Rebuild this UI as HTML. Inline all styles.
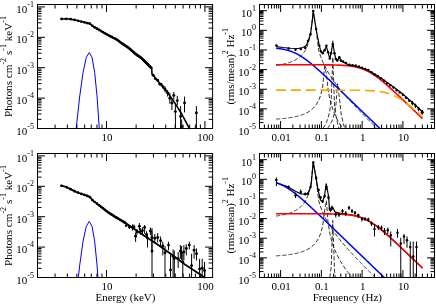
<!DOCTYPE html>
<html><head><meta charset="utf-8"><title>plot</title>
<style>html,body{margin:0;padding:0;background:#fff;}svg{display:block;filter:blur(0.3px);}text{font-family:'Liberation Serif', serif;fill:#000;}</style></head><body>
<svg width="436" height="304" viewBox="0 0 436 304">
<rect x="0" y="0" width="436" height="304" fill="#fff"/>
<polyline points="76.2,128.5 79.61,97.04 83.07,72.33 86.28,57.49 89.26,52.55 92.04,57.49 94.66,72.33 97.12,97.04 99.25,128.5" fill="none" stroke="#0000ff" stroke-width="1" />
<polyline points="61,19 66,18.75 71,19.25 76,20.25 81,21.5 86,22.75 89.75,23.6 93.5,26.75 98.5,29.5 104,32.75 110.25,36.25 116.5,39.4 122.75,44 129,48.1 135.25,53.75 141.5,58.1 146.5,63.1 151.7,68.3 152,74.1 156.25,79.1 160.6,84.3 165,89.5 168.1,93.2 173.8,101.4 181.7,114 188.8,127.4 189.4,128.5" fill="none" stroke="#000" stroke-width="1.6" stroke-linejoin="round" stroke-linecap="round"/>
<circle cx="61.64" cy="18.97" r="1.35" fill="#000"/>
<circle cx="66.37" cy="18.79" r="1.35" fill="#000"/>
<circle cx="70.63" cy="19.21" r="1.35" fill="#000"/>
<circle cx="74.51" cy="19.95" r="1.35" fill="#000"/>
<circle cx="78.06" cy="20.76" r="1.35" fill="#000"/>
<circle cx="81.34" cy="21.58" r="1.35" fill="#000"/>
<circle cx="84.38" cy="22.35" r="1.35" fill="#000"/>
<circle cx="87.23" cy="23.03" r="1.35" fill="#000"/>
<circle cx="89.89" cy="23.72" r="1.35" fill="#000"/>
<circle cx="92.4" cy="25.83" r="1.35" fill="#000"/>
<circle cx="94.77" cy="27.45" r="1.35" fill="#000"/>
<circle cx="97.02" cy="28.68" r="1.35" fill="#000"/>
<circle cx="99.15" cy="29.88" r="1.35" fill="#000"/>
<circle cx="101.18" cy="31.09" r="1.35" fill="#000"/>
<circle cx="103.12" cy="32.23" r="1.35" fill="#000"/>
<circle cx="104.98" cy="33.3" r="1.35" fill="#000"/>
<circle cx="106.76" cy="34.29" r="1.35" fill="#000"/>
<circle cx="108.46" cy="35.25" r="1.35" fill="#000"/>
<circle cx="110.1" cy="36.17" r="1.35" fill="#000"/>
<circle cx="111.69" cy="36.97" r="1.35" fill="#000"/>
<circle cx="113.21" cy="37.74" r="1.35" fill="#000"/>
<circle cx="114.68" cy="38.48" r="1.35" fill="#000"/>
<circle cx="116.1" cy="39.2" r="1.35" fill="#000"/>
<circle cx="117.48" cy="40.12" r="1.35" fill="#000"/>
<circle cx="118.82" cy="41.1" r="1.35" fill="#000"/>
<circle cx="120.11" cy="42.06" r="1.35" fill="#000"/>
<circle cx="121.36" cy="42.98" r="1.35" fill="#000"/>
<circle cx="122.58" cy="43.88" r="1.35" fill="#000"/>
<circle cx="123.77" cy="44.67" r="1.35" fill="#000"/>
<circle cx="124.92" cy="45.43" r="1.35" fill="#000"/>
<circle cx="126.05" cy="46.16" r="1.35" fill="#000"/>
<circle cx="127.14" cy="46.88" r="1.35" fill="#000"/>
<circle cx="128.21" cy="47.58" r="1.35" fill="#000"/>
<circle cx="129.25" cy="48.33" r="1.35" fill="#000"/>
<circle cx="130.27" cy="49.25" r="1.35" fill="#000"/>
<circle cx="131.26" cy="50.14" r="1.35" fill="#000"/>
<circle cx="132.23" cy="51.02" r="1.35" fill="#000"/>
<circle cx="133.18" cy="51.88" r="1.35" fill="#000"/>
<circle cx="134.11" cy="52.72" r="1.35" fill="#000"/>
<circle cx="135.02" cy="53.54" r="1.35" fill="#000"/>
<circle cx="135.91" cy="54.21" r="1.35" fill="#000"/>
<circle cx="136.78" cy="54.81" r="1.35" fill="#000"/>
<circle cx="137.63" cy="55.41" r="1.35" fill="#000"/>
<circle cx="138.47" cy="55.99" r="1.35" fill="#000"/>
<circle cx="139.29" cy="56.56" r="1.35" fill="#000"/>
<circle cx="140.1" cy="57.12" r="1.35" fill="#000"/>
<circle cx="140.89" cy="57.67" r="1.35" fill="#000"/>
<circle cx="141.66" cy="58.26" r="1.35" fill="#000"/>
<circle cx="142.43" cy="59.03" r="1.35" fill="#000"/>
<circle cx="143.18" cy="59.78" r="1.35" fill="#000"/>
<circle cx="143.91" cy="60.51" r="1.35" fill="#000"/>
<circle cx="144.64" cy="61.24" r="1.35" fill="#000"/>
<circle cx="145.35" cy="61.95" r="1.35" fill="#000"/>
<circle cx="146.05" cy="62.65" r="1.35" fill="#000"/>
<circle cx="146.74" cy="63.34" r="1.35" fill="#000"/>
<circle cx="147.42" cy="64.02" r="1.35" fill="#000"/>
<circle cx="148.08" cy="64.68" r="1.35" fill="#000"/>
<circle cx="148.74" cy="65.34" r="1.35" fill="#000"/>
<circle cx="149.39" cy="65.99" r="1.35" fill="#000"/>
<circle cx="150.02" cy="66.62" r="1.35" fill="#000"/>
<circle cx="150.65" cy="67.25" r="1.35" fill="#000"/>
<circle cx="151.27" cy="67.87" r="1.35" fill="#000"/>
<line x1="153.2" y1="74.2" x2="153.2" y2="76.2" stroke="#000" stroke-width="1"/>
<circle cx="153.2" cy="75.2" r="1.45" fill="#000"/>
<line x1="155.3" y1="77.4" x2="155.3" y2="79.8" stroke="#000" stroke-width="1"/>
<circle cx="155.3" cy="78.6" r="1.45" fill="#000"/>
<line x1="157.6" y1="79" x2="157.6" y2="81.6" stroke="#000" stroke-width="1"/>
<circle cx="157.6" cy="80.2" r="1.45" fill="#000"/>
<line x1="159.6" y1="82.4" x2="159.6" y2="85.4" stroke="#000" stroke-width="1"/>
<circle cx="159.6" cy="83.9" r="1.45" fill="#000"/>
<line x1="161.4" y1="83" x2="161.4" y2="86.4" stroke="#000" stroke-width="1"/>
<circle cx="161.4" cy="84.6" r="1.45" fill="#000"/>
<line x1="163.2" y1="85.5" x2="163.2" y2="88.8" stroke="#000" stroke-width="1"/>
<circle cx="163.2" cy="87" r="1.45" fill="#000"/>
<line x1="165.1" y1="86.5" x2="165.1" y2="92.5" stroke="#000" stroke-width="1"/>
<circle cx="165.1" cy="89.5" r="1.45" fill="#000"/>
<line x1="167.6" y1="90" x2="167.6" y2="96.5" stroke="#000" stroke-width="1"/>
<circle cx="167.6" cy="93" r="1.45" fill="#000"/>
<line x1="169.8" y1="92.7" x2="169.8" y2="103.7" stroke="#000" stroke-width="1"/>
<circle cx="169.8" cy="98.2" r="1.45" fill="#000"/>
<line x1="173.8" y1="91.9" x2="173.8" y2="99.8" stroke="#000" stroke-width="1"/>
<circle cx="173.8" cy="95.4" r="1.45" fill="#000"/>
<line x1="171.9" y1="99" x2="171.9" y2="110" stroke="#000" stroke-width="1"/>
<circle cx="171.9" cy="103" r="1.45" fill="#000"/>
<line x1="177.3" y1="95.8" x2="177.3" y2="105.3" stroke="#000" stroke-width="1"/>
<circle cx="177.3" cy="100.6" r="1.45" fill="#000"/>
<line x1="175.4" y1="104.5" x2="175.4" y2="128.5" stroke="#000" stroke-width="1"/>
<circle cx="175.4" cy="111.6" r="1.45" fill="#000"/>
<line x1="180.6" y1="106.1" x2="180.6" y2="128.5" stroke="#000" stroke-width="1"/>
<circle cx="180.6" cy="116.4" r="1.45" fill="#000"/>
<line x1="184.5" y1="96.6" x2="184.5" y2="112.4" stroke="#000" stroke-width="1"/>
<circle cx="184.5" cy="103" r="1.45" fill="#000"/>
<line x1="181.7" y1="119.5" x2="181.7" y2="128.5" stroke="#000" stroke-width="1"/>
<circle cx="181.7" cy="126.6" r="1.45" fill="#000"/>
<line x1="196.4" y1="106.1" x2="196.4" y2="128.5" stroke="#000" stroke-width="1"/>
<circle cx="196.4" cy="112.9" r="1.45" fill="#000"/>
<polyline points="78.38,277.5 79.61,265.9 83.07,241.18 86.28,226.35 89.26,221.41 92.04,226.35 94.66,241.18 97.12,265.9 97.92,277.5" fill="none" stroke="#0000ff" stroke-width="1" />
<polyline points="61,185.6 66,186.9 71,189.4 76,191.9 81,193.75 86,195.4 89.75,196.9 92.9,200.6 97.25,203.9 102.25,207.7 108.5,212.6 114.75,216.6 121,220.3 126,223.3 132.5,227.8 139,232.3 145,236.3 150,239.4 157.5,244.6 167.1,251.2 175,257 184.2,263.9 193,269.8 201.3,275.3 204.3,277.5" fill="none" stroke="#000" stroke-width="1.8" stroke-linejoin="round" stroke-linecap="round"/>
<circle cx="61.64" cy="185.77" r="1.35" fill="#000"/>
<circle cx="66.37" cy="187.09" r="1.35" fill="#000"/>
<circle cx="70.63" cy="189.22" r="1.35" fill="#000"/>
<circle cx="74.51" cy="191.15" r="1.35" fill="#000"/>
<circle cx="78.06" cy="192.66" r="1.35" fill="#000"/>
<circle cx="81.34" cy="193.86" r="1.35" fill="#000"/>
<circle cx="84.38" cy="194.87" r="1.35" fill="#000"/>
<circle cx="87.23" cy="195.89" r="1.35" fill="#000"/>
<circle cx="89.89" cy="197.07" r="1.35" fill="#000"/>
<circle cx="92.4" cy="200.02" r="1.35" fill="#000"/>
<circle cx="94.77" cy="202.02" r="1.35" fill="#000"/>
<circle cx="97.02" cy="203.72" r="1.35" fill="#000"/>
<circle cx="99.15" cy="205.34" r="1.35" fill="#000"/>
<circle cx="101.18" cy="206.89" r="1.35" fill="#000"/>
<circle cx="103.12" cy="208.38" r="1.35" fill="#000"/>
<circle cx="104.98" cy="209.84" r="1.35" fill="#000"/>
<circle cx="106.76" cy="211.23" r="1.35" fill="#000"/>
<circle cx="108.46" cy="212.57" r="1.35" fill="#000"/>
<circle cx="110.1" cy="213.63" r="1.35" fill="#000"/>
<circle cx="111.69" cy="214.64" r="1.35" fill="#000"/>
<circle cx="113.21" cy="215.61" r="1.35" fill="#000"/>
<circle cx="114.68" cy="216.56" r="1.35" fill="#000"/>
<circle cx="116.1" cy="217.4" r="1.35" fill="#000"/>
<circle cx="117.48" cy="218.22" r="1.35" fill="#000"/>
<circle cx="118.82" cy="219.01" r="1.35" fill="#000"/>
<circle cx="120.11" cy="219.77" r="1.35" fill="#000"/>
<circle cx="121.36" cy="220.52" r="1.35" fill="#000"/>
<circle cx="122.58" cy="221.25" r="1.35" fill="#000"/>
<circle cx="123.77" cy="221.96" r="1.35" fill="#000"/>
<circle cx="124.92" cy="222.65" r="1.35" fill="#000"/>
<line x1="126.25" y1="224" x2="126.25" y2="227" stroke="#000" stroke-width="1"/>
<circle cx="126.25" cy="225.6" r="1.45" fill="#000"/>
<line x1="129.4" y1="225" x2="129.4" y2="229" stroke="#000" stroke-width="1"/>
<circle cx="129.4" cy="226.9" r="1.45" fill="#000"/>
<line x1="132.5" y1="224.4" x2="132.5" y2="230.6" stroke="#000" stroke-width="1"/>
<circle cx="132.5" cy="227.5" r="1.45" fill="#000"/>
<line x1="134" y1="224.5" x2="134" y2="229.5" stroke="#000" stroke-width="1"/>
<circle cx="134" cy="226.9" r="1.45" fill="#000"/>
<line x1="135.6" y1="232.5" x2="135.6" y2="241.9" stroke="#000" stroke-width="1"/>
<circle cx="135.6" cy="236.25" r="1.45" fill="#000"/>
<line x1="136.9" y1="229" x2="136.9" y2="235" stroke="#000" stroke-width="1"/>
<circle cx="136.9" cy="231.9" r="1.45" fill="#000"/>
<line x1="139.4" y1="223" x2="139.4" y2="230" stroke="#000" stroke-width="1"/>
<circle cx="139.4" cy="226.25" r="1.45" fill="#000"/>
<line x1="140.6" y1="228" x2="140.6" y2="234.5" stroke="#000" stroke-width="1"/>
<circle cx="140.6" cy="231.25" r="1.45" fill="#000"/>
<line x1="142.5" y1="227.5" x2="142.5" y2="234" stroke="#000" stroke-width="1"/>
<circle cx="142.5" cy="230.6" r="1.45" fill="#000"/>
<line x1="144.6" y1="225" x2="144.6" y2="233.75" stroke="#000" stroke-width="1"/>
<circle cx="144.6" cy="227.5" r="1.45" fill="#000"/>
<line x1="146.5" y1="231.25" x2="146.5" y2="238.1" stroke="#000" stroke-width="1"/>
<circle cx="146.5" cy="234.4" r="1.45" fill="#000"/>
<line x1="147.5" y1="233.75" x2="147.5" y2="247.5" stroke="#000" stroke-width="1"/>
<circle cx="147.5" cy="238.1" r="1.45" fill="#000"/>
<line x1="150.4" y1="227.5" x2="150.4" y2="235" stroke="#000" stroke-width="1"/>
<circle cx="150.4" cy="231" r="1.45" fill="#000"/>
<line x1="151.9" y1="231.25" x2="151.9" y2="252.5" stroke="#000" stroke-width="1"/>
<circle cx="151.9" cy="237.5" r="1.45" fill="#000"/>
<line x1="152" y1="228" x2="152" y2="277.5" stroke="#000" stroke-width="1"/>
<circle cx="152" cy="251.1" r="1.45" fill="#000"/>
<line x1="154.8" y1="234" x2="154.8" y2="243.4" stroke="#000" stroke-width="1"/>
<circle cx="154.8" cy="238.3" r="1.45" fill="#000"/>
<line x1="157.7" y1="233.1" x2="157.7" y2="242.5" stroke="#000" stroke-width="1"/>
<circle cx="157.7" cy="237.4" r="1.45" fill="#000"/>
<line x1="160.6" y1="236.5" x2="160.6" y2="246" stroke="#000" stroke-width="1"/>
<circle cx="160.6" cy="240.8" r="1.45" fill="#000"/>
<line x1="162.8" y1="241.7" x2="162.8" y2="255.4" stroke="#000" stroke-width="1"/>
<circle cx="162.8" cy="246" r="1.45" fill="#000"/>
<line x1="165" y1="246" x2="165" y2="277.5" stroke="#000" stroke-width="1"/>
<circle cx="165" cy="252.8" r="1.45" fill="#000"/>
<line x1="168.5" y1="241.7" x2="168.5" y2="250.2" stroke="#000" stroke-width="1"/>
<circle cx="168.5" cy="245.1" r="1.45" fill="#000"/>
<line x1="170.5" y1="253.7" x2="170.5" y2="277.5" stroke="#000" stroke-width="1"/>
<circle cx="170.5" cy="269.9" r="1.45" fill="#000"/>
<line x1="173.1" y1="249.4" x2="173.1" y2="277.5" stroke="#000" stroke-width="1"/>
<circle cx="173.1" cy="256.2" r="1.45" fill="#000"/>
<line x1="174.3" y1="250.5" x2="174.3" y2="277.5" stroke="#000" stroke-width="1"/>
<circle cx="174.3" cy="258.5" r="1.45" fill="#000"/>
<line x1="178.2" y1="252" x2="178.2" y2="268" stroke="#000" stroke-width="1"/>
<circle cx="178.2" cy="258.8" r="1.45" fill="#000"/>
<line x1="180.4" y1="245.1" x2="180.4" y2="258.8" stroke="#000" stroke-width="1"/>
<circle cx="180.4" cy="251.1" r="1.45" fill="#000"/>
<line x1="181.6" y1="246" x2="181.6" y2="260.5" stroke="#000" stroke-width="1"/>
<circle cx="181.6" cy="252.8" r="1.45" fill="#000"/>
<line x1="182.8" y1="253.7" x2="182.8" y2="277.5" stroke="#000" stroke-width="1"/>
<circle cx="182.8" cy="262.2" r="1.45" fill="#000"/>
<line x1="183.9" y1="245.1" x2="183.9" y2="260.5" stroke="#000" stroke-width="1"/>
<circle cx="183.9" cy="251.9" r="1.45" fill="#000"/>
<line x1="186.3" y1="244.2" x2="186.3" y2="255.4" stroke="#000" stroke-width="1"/>
<circle cx="186.3" cy="248.5" r="1.45" fill="#000"/>
<line x1="189.3" y1="241.7" x2="189.3" y2="249.4" stroke="#000" stroke-width="1"/>
<circle cx="189.3" cy="245.1" r="1.45" fill="#000"/>
<line x1="191.6" y1="253.7" x2="191.6" y2="277.5" stroke="#000" stroke-width="1"/>
<circle cx="191.6" cy="265.6" r="1.45" fill="#000"/>
<line x1="194.1" y1="245.1" x2="194.1" y2="258.8" stroke="#000" stroke-width="1"/>
<circle cx="194.1" cy="250.2" r="1.45" fill="#000"/>
<line x1="196.5" y1="248.5" x2="196.5" y2="260.5" stroke="#000" stroke-width="1"/>
<circle cx="196.5" cy="253.7" r="1.45" fill="#000"/>
<line x1="199.6" y1="258.8" x2="199.6" y2="277.5" stroke="#000" stroke-width="1"/>
<circle cx="199.6" cy="269" r="1.45" fill="#000"/>
<line x1="202.2" y1="258.8" x2="202.2" y2="277.5" stroke="#000" stroke-width="1"/>
<circle cx="202.2" cy="268.2" r="1.45" fill="#000"/>
<line x1="204.5" y1="262" x2="204.5" y2="277.5" stroke="#000" stroke-width="1"/>
<circle cx="204.5" cy="270.5" r="1.45" fill="#000"/>
<polyline points="276.11,65.38 276.61,65.31 277.11,65.24 277.61,65.16 278.11,65.09 278.61,65.01 279.11,64.93 279.61,64.85 280.11,64.76 280.61,64.67 281.11,64.58 281.61,64.48 282.11,64.39 282.61,64.28 283.11,64.18 283.61,64.07 284.11,63.96 284.61,63.84 285.11,63.72 285.61,63.59 286.11,63.46 286.61,63.33 287.11,63.19 287.61,63.04 288.11,62.89 288.61,62.74 289.11,62.57 289.61,62.41 290.11,62.23 290.61,62.05 291.11,61.86 291.61,61.66 292.11,61.46 292.61,61.24 293.11,61.02 293.61,60.79 294.11,60.55 294.61,60.3 295.11,60.03 295.61,59.76 296.11,59.47 296.61,59.17 297.11,58.86 297.61,58.52 298.11,58.18 298.61,57.81 299.11,57.43 299.61,57.03 300.11,56.6 300.61,56.16 301.11,55.68 301.61,55.18 302.11,54.65 302.61,54.09 303.11,53.49 303.61,52.85 304.11,52.16 304.61,51.43 305.11,50.64 305.61,49.79 308,44.54 310.5,34.2 313.25,11.1 316.1,29.2 318.6,49.93 320.6,56.31 322.6,61.44 324.6,65.79 326.4,69.26 328.1,72.26 329.8,75.05 331.2,77.21 332.8,79.57 334.5,81.97 335.9,83.86 337.5,85.96 339.3,88.25 341,90.35 343.1,92.87 346,96.24 346.5,96.81 347,97.37 347.5,97.94 348,98.5 348.5,99.06 349,99.62 349.5,100.17 350,100.72 350.5,101.27 351,101.82 351.5,102.36 352,102.91 352.5,103.45 353,103.99 353.5,104.53 354,105.06 354.5,105.6 355,106.13 355.5,106.66 356,107.19 356.5,107.72 357,108.25 357.5,108.77 358,109.3 358.5,109.82 359,110.34 359.5,110.86 360,111.38 360.5,111.9 361,112.42 361.5,112.93 362,113.45 362.5,113.96 363,114.47 363.5,114.99 364,115.5 364.5,116.01 365,116.52 365.5,117.03 366,117.53 366.5,118.04 367,118.55 367.5,119.05 368,119.56 368.5,120.06 369,120.57 369.5,121.07 370,121.57 370.5,122.07 371,122.57 371.5,123.07 372,123.57 372.5,124.07 373,124.57 373.5,125.07 374,125.57 374.5,126.07 375,126.56 375.5,127.06 376,127.56 376.5,128.05 376.95,128.5" fill="none" stroke="#000" stroke-width="0.8" stroke-dasharray="4.2 2.0" />
<polyline points="276.11,119.1 276.61,119.07 277.11,119.03 277.61,119 278.11,118.96 278.61,118.93 279.11,118.89 279.61,118.85 280.11,118.81 280.61,118.77 281.11,118.73 281.61,118.68 282.11,118.64 282.61,118.59 283.11,118.54 283.61,118.49 284.11,118.44 284.61,118.39 285.11,118.33 285.61,118.28 286.11,118.22 286.61,118.16 287.11,118.1 287.61,118.03 288.11,117.97 288.61,117.9 289.11,117.83 289.61,117.76 290.11,117.68 290.61,117.6 291.11,117.52 291.61,117.44 292.11,117.35 292.61,117.27 293.11,117.17 293.61,117.08 294.11,116.98 294.61,116.88 295.11,116.77 295.61,116.67 296.11,116.55 296.61,116.44 297.11,116.32 297.61,116.19 298.11,116.06 298.61,115.93 299.11,115.79 299.61,115.64 300.11,115.49 300.61,115.34 301.11,115.18 301.61,115.01 302.11,114.83 302.61,114.65 303.11,114.46 303.61,114.27 304.11,114.06 304.61,113.85 305.11,113.63 305.61,113.4 308,112.15 310.5,110.52 313.25,108.18 316.1,104.82 318.6,100.55 320.6,95.45 322.6,87.05 324.6,66.44 326.4,73.49 328.1,90.03 329.8,98.97 331.2,104.3 332.8,109.22 334.5,113.6 335.9,116.75 337.5,120.01 339.3,123.33 341,126.22 342.44,128.5" fill="none" stroke="#000" stroke-width="0.8" stroke-dasharray="4.2 2.0" />
<polyline points="322.86,128.5 324.6,125.99 326.4,122.51 328.1,117.92 329.8,110.84 331.2,100.25 332.8,57.29 334.5,105 335.9,115.49 337.5,123.2 339,128.5" fill="none" stroke="#000" stroke-width="0.8" stroke-dasharray="4.2 2.0" />
<polyline points="327.32,128.5 328.1,127.61 329.8,125.17 331.2,122.64 332.8,118.84 334.5,112.99 335.9,105.19 337.5,83.74 339.3,97.23 341,112.75 343.1,123 344.82,128.5" fill="none" stroke="#000" stroke-width="0.8" stroke-dasharray="4.2 2.0" />
<polyline points="276.11,48.27 276.48,48.31 276.85,48.35 277.21,48.38 277.58,48.42 277.95,48.47 278.32,48.51 278.69,48.55 279.06,48.6 279.42,48.65 279.79,48.7 280.16,48.75 280.53,48.8 280.9,48.86 281.27,48.91 281.63,48.97 282,49.04 282.37,49.1 282.74,49.16 283.11,49.23 283.48,49.3 283.84,49.38 284.21,49.45 284.58,49.53 284.95,49.61 285.32,49.69 285.69,49.78 286.05,49.86 286.42,49.95 286.79,50.05 287.16,50.14 287.53,50.24 287.9,50.35 288.26,50.45 288.63,50.56 289,50.67 289.37,50.79 289.74,50.91 290.11,51.03 290.47,51.15 290.84,51.28 291.21,51.41 291.58,51.55 291.95,51.69 292.32,51.83 292.68,51.98 293.05,52.12 293.42,52.28 293.79,52.43 294.16,52.59 294.53,52.76 294.89,52.93 295.26,53.1 295.63,53.27 296,53.45 296.37,53.63 296.73,53.82 297.1,54.01 297.47,54.2 297.84,54.4 298.21,54.6 298.58,54.81 298.94,55.01 299.31,55.22 299.68,55.44 300.05,55.66 300.42,55.88 300.79,56.11 301.15,56.33 301.52,56.57 301.89,56.8 302.26,57.04 302.63,57.28 303,57.53 303.36,57.78 303.73,58.03 304.1,58.28 304.47,58.54 304.84,58.8 305.21,59.06 305.57,59.33 305.94,59.6 306.31,59.87 306.68,60.14 307.05,60.42 307.42,60.7 307.78,60.98 308.15,61.26 308.52,61.55 308.89,61.84 309.26,62.13 309.63,62.42 309.99,62.72 310.36,63.02 310.73,63.31 311.1,63.62 311.47,63.92 311.84,64.22 312.2,64.53 312.57,64.84 312.94,65.15 313.31,65.46 313.68,65.77 314.05,66.09 314.41,66.4 314.78,66.72 315.15,67.04 315.52,67.36 315.89,67.68 316.26,68 316.62,68.33 316.99,68.65 317.36,68.98 317.73,69.3 318.1,69.63 318.47,69.96 318.83,70.29 319.2,70.62 319.57,70.95 319.94,71.29 320.31,71.62 320.67,71.96 321.04,72.29 321.41,72.63 321.78,72.96 322.15,73.3 322.52,73.64 322.88,73.98 323.25,74.32 323.62,74.66 323.99,75 324.36,75.34 324.73,75.68 325.09,76.02 325.46,76.37 325.83,76.71 326.2,77.05 326.57,77.4 326.94,77.74 327.3,78.09 327.67,78.43 328.04,78.78 328.41,79.12 328.78,79.47 329.15,79.82 329.51,80.16 329.88,80.51 330.25,80.86 330.62,81.21 330.99,81.56 331.36,81.9 331.72,82.25 332.09,82.6 332.46,82.95 332.83,83.3 333.2,83.65 333.57,84 333.93,84.35 334.3,84.7 334.67,85.05 335.04,85.4 335.41,85.75 335.78,86.1 336.14,86.45 336.51,86.81 336.88,87.16 337.25,87.51 337.62,87.86 337.99,88.21 338.35,88.56 338.72,88.92 339.09,89.27 339.46,89.62 339.83,89.97 340.2,90.33 340.56,90.68 340.93,91.03 341.3,91.38 341.67,91.74 342.04,92.09 342.41,92.44 342.77,92.8 343.14,93.15 343.51,93.5 343.88,93.86 344.25,94.21 344.61,94.56 344.98,94.92 345.35,95.27 345.72,95.62 346.09,95.98 346.46,96.33 346.82,96.68 347.19,97.04 347.56,97.39 347.93,97.75 348.3,98.1 348.67,98.45 349.03,98.81 349.4,99.16 349.77,99.52 350.14,99.87 350.51,100.22 350.88,100.58 351.24,100.93 351.61,101.29 351.98,101.64 352.35,101.99 352.72,102.35 353.09,102.7 353.45,103.06 353.82,103.41 354.19,103.77 354.56,104.12 354.93,104.47 355.3,104.83 355.66,105.18 356.03,105.54 356.4,105.89 356.77,106.25 357.14,106.6 357.51,106.96 357.87,107.31 358.24,107.67 358.61,108.02 358.98,108.37 359.35,108.73 359.72,109.08 360.08,109.44 360.45,109.79 360.82,110.15 361.19,110.5 361.56,110.86 361.93,111.21 362.29,111.57 362.66,111.92 363.03,112.28 363.4,112.63 363.77,112.98 364.14,113.34 364.5,113.69 364.87,114.05 365.24,114.4 365.61,114.76 365.98,115.11 366.35,115.47 366.71,115.82 367.08,116.18 367.45,116.53 367.82,116.89 368.19,117.24 368.55,117.6 368.92,117.95 369.29,118.31 369.66,118.66 370.03,119.01 370.4,119.37 370.76,119.72 371.13,120.08 371.5,120.43 371.87,120.79 372.24,121.14 372.61,121.5 372.97,121.85 373.34,122.21 373.71,122.56 374.08,122.92 374.45,123.27 374.82,123.63 375.18,123.98 375.55,124.34 375.92,124.69 376.29,125.05 376.66,125.4 377.03,125.76 377.39,126.11 377.76,126.47 378.13,126.82 378.5,127.18 378.87,127.53 379.24,127.88 379.6,128.24" fill="none" stroke="#0000ff" stroke-width="1.5" />
<polyline points="276.11,64.76 276.6,64.76 277.09,64.76 277.57,64.76 278.06,64.76 278.55,64.76 279.04,64.76 279.52,64.76 280.01,64.76 280.5,64.76 280.99,64.76 281.48,64.76 281.96,64.76 282.45,64.76 282.94,64.76 283.43,64.76 283.92,64.76 284.4,64.76 284.89,64.76 285.38,64.76 285.87,64.76 286.36,64.76 286.84,64.76 287.33,64.76 287.82,64.76 288.31,64.76 288.8,64.76 289.28,64.76 289.77,64.76 290.26,64.76 290.75,64.76 291.23,64.76 291.72,64.76 292.21,64.76 292.7,64.76 293.19,64.76 293.67,64.76 294.16,64.76 294.65,64.76 295.14,64.76 295.63,64.76 296.11,64.76 296.6,64.76 297.09,64.76 297.58,64.76 298.07,64.76 298.55,64.76 299.04,64.76 299.53,64.76 300.02,64.76 300.5,64.76 300.99,64.76 301.48,64.76 301.97,64.76 302.46,64.76 302.94,64.76 303.43,64.76 303.92,64.77 304.41,64.77 304.9,64.77 305.38,64.77 305.87,64.77 306.36,64.77 306.85,64.77 307.34,64.77 307.82,64.77 308.31,64.77 308.8,64.77 309.29,64.77 309.77,64.77 310.26,64.77 310.75,64.77 311.24,64.77 311.73,64.78 312.21,64.78 312.7,64.78 313.19,64.78 313.68,64.78 314.17,64.78 314.65,64.78 315.14,64.78 315.63,64.78 316.12,64.79 316.61,64.79 317.09,64.79 317.58,64.79 318.07,64.79 318.56,64.8 319.04,64.8 319.53,64.8 320.02,64.8 320.51,64.8 321,64.81 321.48,64.81 321.97,64.81 322.46,64.82 322.95,64.82 323.44,64.82 323.92,64.83 324.41,64.83 324.9,64.83 325.39,64.84 325.88,64.84 326.36,64.85 326.85,64.85 327.34,64.86 327.83,64.86 328.32,64.87 328.8,64.88 329.29,64.88 329.78,64.89 330.27,64.9 330.75,64.9 331.24,64.91 331.73,64.92 332.22,64.93 332.71,64.94 333.19,64.95 333.68,64.96 334.17,64.97 334.66,64.99 335.15,65 335.63,65.01 336.12,65.03 336.61,65.04 337.1,65.06 337.59,65.07 338.07,65.09 338.56,65.11 339.05,65.13 339.54,65.15 340.02,65.17 340.51,65.19 341,65.22 341.49,65.24 341.98,65.27 342.46,65.3 342.95,65.33 343.44,65.36 343.93,65.39 344.42,65.42 344.9,65.46 345.39,65.5 345.88,65.54 346.37,65.58 346.86,65.62 347.34,65.67 347.83,65.72 348.32,65.77 348.81,65.83 349.29,65.88 349.78,65.94 350.27,66 350.76,66.07 351.25,66.14 351.73,66.21 352.22,66.28 352.71,66.36 353.2,66.45 353.69,66.53 354.17,66.62 354.66,66.72 355.15,66.82 355.64,66.92 356.13,67.03 356.61,67.14 357.1,67.26 357.59,67.38 358.08,67.5 358.56,67.64 359.05,67.77 359.54,67.92 360.03,68.06 360.52,68.22 361,68.38 361.49,68.54 361.98,68.71 362.47,68.89 362.96,69.08 363.44,69.27 363.93,69.46 364.42,69.66 364.91,69.87 365.4,70.09 365.88,70.31 366.37,70.54 366.86,70.77 367.35,71.01 367.84,71.26 368.32,71.51 368.81,71.78 369.3,72.04 369.79,72.32 370.27,72.59 370.76,72.88 371.25,73.17 371.74,73.47 372.23,73.77 372.71,74.08 373.2,74.4 373.69,74.72 374.18,75.05 374.67,75.38 375.15,75.72 375.64,76.06 376.13,76.41 376.62,76.76 377.11,77.12 377.59,77.48 378.08,77.84 378.57,78.21 379.06,78.59 379.54,78.97 380.03,79.35 380.52,79.74 381.01,80.13 381.5,80.52 381.98,80.92 382.47,81.32 382.96,81.73 383.45,82.13 383.94,82.55 384.42,82.96 384.91,83.37 385.4,83.79 385.89,84.21 386.38,84.64 386.86,85.06 387.35,85.49 387.84,85.92 388.33,86.35 388.81,86.78 389.3,87.22 389.79,87.66 390.28,88.1 390.77,88.54 391.25,88.98 391.74,89.42 392.23,89.87 392.72,90.31 393.21,90.76 393.69,91.21 394.18,91.66 394.67,92.11 395.16,92.56 395.65,93.01 396.13,93.46 396.62,93.92 397.11,94.37 397.6,94.83 398.08,95.29 398.57,95.74 399.06,96.2 399.55,96.66 400.04,97.12 400.52,97.58 401.01,98.04 401.5,98.5 401.99,98.96 402.48,99.42 402.96,99.89 403.45,100.35 403.94,100.81 404.43,101.28 404.92,101.74 405.4,102.2 405.89,102.67 406.38,103.13 406.87,103.6 407.35,104.06 407.84,104.53 408.33,104.99 408.82,105.46 409.31,105.93 409.79,106.39 410.28,106.86 410.77,107.33 411.26,107.79 411.75,108.26 412.23,108.73 412.72,109.19 413.21,109.66 413.7,110.13 414.19,110.6 414.67,111.07 415.16,111.53 415.65,112 416.14,112.47 416.63,112.94 417.11,113.41 417.6,113.88 418.09,114.34 418.58,114.81 419.06,115.28 419.55,115.75 420.04,116.22 420.53,116.69 421.02,117.16 421.5,117.63 421.99,118.1 422.48,118.56" fill="none" stroke="#ff0000" stroke-width="1.6" />
<polyline points="276.11,90.17 276.6,90.17 277.09,90.17 277.57,90.17 278.06,90.17 278.55,90.17 279.04,90.17 279.52,90.17 280.01,90.17 280.5,90.17 280.99,90.17 281.48,90.17 281.96,90.17 282.45,90.17 282.94,90.17 283.43,90.17 283.92,90.17 284.4,90.17 284.89,90.17 285.38,90.17 285.87,90.17 286.36,90.17 286.84,90.17 287.33,90.17 287.82,90.17 288.31,90.17 288.8,90.17 289.28,90.17 289.77,90.17 290.26,90.17 290.75,90.17 291.23,90.17 291.72,90.17 292.21,90.17 292.7,90.17 293.19,90.17 293.67,90.17 294.16,90.17 294.65,90.17 295.14,90.17 295.63,90.17 296.11,90.17 296.6,90.17 297.09,90.17 297.58,90.17 298.07,90.17 298.55,90.17 299.04,90.17 299.53,90.17 300.02,90.17 300.5,90.17 300.99,90.17 301.48,90.17 301.97,90.17 302.46,90.17 302.94,90.17 303.43,90.17 303.92,90.17 304.41,90.17 304.9,90.17 305.38,90.17 305.87,90.17 306.36,90.17 306.85,90.17 307.34,90.17 307.82,90.17 308.31,90.17 308.8,90.17 309.29,90.17 309.77,90.17 310.26,90.17 310.75,90.17 311.24,90.17 311.73,90.17 312.21,90.17 312.7,90.17 313.19,90.17 313.68,90.17 314.17,90.17 314.65,90.17 315.14,90.17 315.63,90.17 316.12,90.17 316.61,90.17 317.09,90.17 317.58,90.17 318.07,90.17 318.56,90.17 319.04,90.17 319.53,90.17 320.02,90.17 320.51,90.17 321,90.17 321.48,90.17 321.97,90.17 322.46,90.17 322.95,90.17 323.44,90.17 323.92,90.17 324.41,90.17 324.9,90.17 325.39,90.17 325.88,90.17 326.36,90.17 326.85,90.17 327.34,90.17 327.83,90.17 328.32,90.17 328.8,90.17 329.29,90.17 329.78,90.17 330.27,90.17 330.75,90.17 331.24,90.17 331.73,90.17 332.22,90.17 332.71,90.17 333.19,90.17 333.68,90.17 334.17,90.17 334.66,90.18 335.15,90.18 335.63,90.18 336.12,90.18 336.61,90.18 337.1,90.18 337.59,90.18 338.07,90.18 338.56,90.18 339.05,90.18 339.54,90.18 340.02,90.18 340.51,90.18 341,90.19 341.49,90.19 341.98,90.19 342.46,90.19 342.95,90.19 343.44,90.19 343.93,90.19 344.42,90.19 344.9,90.2 345.39,90.2 345.88,90.2 346.37,90.2 346.86,90.2 347.34,90.21 347.83,90.21 348.32,90.21 348.81,90.21 349.29,90.21 349.78,90.22 350.27,90.22 350.76,90.22 351.25,90.23 351.73,90.23 352.22,90.23 352.71,90.24 353.2,90.24 353.69,90.25 354.17,90.25 354.66,90.25 355.15,90.26 355.64,90.26 356.13,90.27 356.61,90.28 357.1,90.28 357.59,90.29 358.08,90.3 358.56,90.3 359.05,90.31 359.54,90.32 360.03,90.33 360.52,90.34 361,90.35 361.49,90.36 361.98,90.37 362.47,90.38 362.96,90.39 363.44,90.4 363.93,90.42 364.42,90.43 364.91,90.44 365.4,90.46 365.88,90.48 366.37,90.49 366.86,90.51 367.35,90.53 367.84,90.55 368.32,90.57 368.81,90.59 369.3,90.62 369.79,90.64 370.27,90.67 370.76,90.7 371.25,90.73 371.74,90.76 372.23,90.79 372.71,90.82 373.2,90.86 373.69,90.9 374.18,90.94 374.67,90.98 375.15,91.02 375.64,91.07 376.13,91.12 376.62,91.17 377.11,91.22 377.59,91.28 378.08,91.34 378.57,91.4 379.06,91.46 379.54,91.53 380.03,91.6 380.52,91.67 381.01,91.75 381.5,91.83 381.98,91.92 382.47,92.01 382.96,92.1 383.45,92.2 383.94,92.3 384.42,92.41 384.91,92.52 385.4,92.64 385.89,92.76 386.38,92.88 386.86,93.01 387.35,93.15 387.84,93.29 388.33,93.44 388.81,93.59 389.3,93.75 389.79,93.91 390.28,94.08 390.77,94.26 391.25,94.44 391.74,94.63 392.23,94.82 392.72,95.02 393.21,95.23 393.69,95.44 394.18,95.66 394.67,95.89 395.16,96.12 395.65,96.36 396.13,96.61 396.62,96.86 397.11,97.12 397.6,97.39 398.08,97.66 398.57,97.94 399.06,98.22 399.55,98.51 400.04,98.81 400.52,99.11 401.01,99.42 401.5,99.73 401.99,100.05 402.48,100.38 402.96,100.71 403.45,101.04 403.94,101.38 404.43,101.73 404.92,102.08 405.4,102.44 405.89,102.8 406.38,103.16 406.87,103.53 407.35,103.91 407.84,104.29 408.33,104.67 408.82,105.06 409.31,105.44 409.79,105.84 410.28,106.24 410.77,106.64 411.26,107.04 411.75,107.45 412.23,107.86 412.72,108.27 413.21,108.68 413.7,109.1 414.19,109.52 414.67,109.94 415.16,110.37 415.65,110.8 416.14,111.22 416.63,111.66 417.11,112.09 417.6,112.52 418.09,112.96 418.58,113.4 419.06,113.84 419.55,114.28 420.04,114.72 420.53,115.17 421.02,115.61 421.5,116.06 421.99,116.51 422.48,116.96" fill="none" stroke="#ffa500" stroke-width="1.6" stroke-dasharray="10 4.8" />
<polyline points="276.1,46.6 283,47.5 290.5,48.25 298,48.5 303,47.5 305.25,46.3 306.75,44.75 308,41.5 310.5,34 312.4,20.25 313.25,10.9 316.1,29 317.4,36 319.3,45.7 320.4,49.7 321.6,52.3 322.8,53 324.7,50.1 326.3,46.2 328.1,52.3 329.8,58.7 331.1,53.1 332.8,43.2 334.5,53.1 335.8,59.1 337.3,60.7 339.3,57.1 340.9,60.8 343.1,62 346.25,63.8 349.4,65.11 352.55,65.61 355.7,66.23 358.85,67.01 362,67.98 365.15,69.16 368.3,70.57 371.45,72.2 374.6,74.02 377.75,76 380.9,78.08 384.05,80.23 387.2,82.44 390.35,84.69 393.5,86.99 396.65,89.35 399.8,91.8 402.95,94.34 406.1,96.98 409.25,99.7 412.4,102.5 415.55,105.36 418.7,108.26 421.85,111.2 422.5,111.81" fill="none" stroke="#000" stroke-width="1.2" stroke-linejoin="round"/>
<circle cx="276.4" cy="45.4" r="1.25" fill="#000"/>
<circle cx="288.6" cy="48.5" r="1.25" fill="#000"/>
<circle cx="295.5" cy="49.75" r="1.25" fill="#000"/>
<circle cx="300.75" cy="49.1" r="1.25" fill="#000"/>
<circle cx="305.25" cy="47.9" r="1.25" fill="#000"/>
<circle cx="308" cy="41" r="1.25" fill="#000"/>
<circle cx="310.5" cy="34.25" r="1.25" fill="#000"/>
<circle cx="313.25" cy="10.9" r="1.25" fill="#000"/>
<circle cx="316.1" cy="29" r="1.25" fill="#000"/>
<circle cx="319.3" cy="45.8" r="1.25" fill="#000"/>
<circle cx="321" cy="51.5" r="1.25" fill="#000"/>
<circle cx="322.8" cy="53.2" r="1.25" fill="#000"/>
<circle cx="324.7" cy="50.3" r="1.25" fill="#000"/>
<circle cx="326.4" cy="45.8" r="1.25" fill="#000"/>
<circle cx="328.1" cy="52.3" r="1.25" fill="#000"/>
<circle cx="329.8" cy="58.5" r="1.25" fill="#000"/>
<circle cx="331.1" cy="53.3" r="1.25" fill="#000"/>
<circle cx="332.8" cy="44.5" r="1.25" fill="#000"/>
<circle cx="334.5" cy="53.3" r="1.25" fill="#000"/>
<circle cx="335.8" cy="59" r="1.25" fill="#000"/>
<circle cx="337.3" cy="60.6" r="1.25" fill="#000"/>
<circle cx="339.3" cy="57.3" r="1.25" fill="#000"/>
<circle cx="340.9" cy="60.6" r="1.25" fill="#000"/>
<circle cx="343.1" cy="61.6" r="1.25" fill="#000"/>
<circle cx="346" cy="63" r="1.25" fill="#000"/>
<line x1="332.8" y1="40.7" x2="332.8" y2="46.5" stroke="#000" stroke-width="1"/>
<circle cx="349.4" cy="64.81" r="1.25" fill="#000"/>
<circle cx="352.55" cy="65.31" r="1.25" fill="#000"/>
<circle cx="355.7" cy="65.48" r="1.25" fill="#000"/>
<circle cx="358.85" cy="66.38" r="1.25" fill="#000"/>
<circle cx="362" cy="67.84" r="1.25" fill="#000"/>
<circle cx="365.15" cy="68.92" r="1.25" fill="#000"/>
<circle cx="368.3" cy="70.11" r="1.25" fill="#000"/>
<circle cx="371.45" cy="72.18" r="1.25" fill="#000"/>
<circle cx="374.6" cy="74.4" r="1.25" fill="#000"/>
<circle cx="377.75" cy="76.11" r="1.25" fill="#000"/>
<circle cx="380.9" cy="78.14" r="1.25" fill="#000"/>
<circle cx="384.05" cy="80.86" r="1.25" fill="#000"/>
<circle cx="387.2" cy="83.25" r="1.25" fill="#000"/>
<circle cx="390.35" cy="85.16" r="1.25" fill="#000"/>
<circle cx="393.5" cy="87.52" r="1.25" fill="#000"/>
<circle cx="396.65" cy="90.32" r="1.25" fill="#000"/>
<circle cx="399.8" cy="92.6" r="1.25" fill="#000"/>
<circle cx="402.95" cy="94.75" r="1.25" fill="#000"/>
<circle cx="406.1" cy="97.66" r="1.25" fill="#000"/>
<circle cx="409.25" cy="100.7" r="1.25" fill="#000"/>
<line x1="412.4" y1="100.95" x2="412.4" y2="105.35" stroke="#000" stroke-width="1"/>
<circle cx="412.4" cy="103.15" r="1.25" fill="#000"/>
<line x1="415.55" y1="103.57" x2="415.55" y2="107.97" stroke="#000" stroke-width="1"/>
<circle cx="415.55" cy="105.77" r="1.25" fill="#000"/>
<line x1="418.7" y1="106.89" x2="418.7" y2="111.29" stroke="#000" stroke-width="1"/>
<circle cx="418.7" cy="109.09" r="1.25" fill="#000"/>
<line x1="421.85" y1="109.96" x2="421.85" y2="114.36" stroke="#000" stroke-width="1"/>
<circle cx="421.85" cy="112.16" r="1.25" fill="#000"/>
<line x1="422.5" y1="110.12" x2="422.5" y2="114.52" stroke="#000" stroke-width="1"/>
<circle cx="422.5" cy="112.32" r="1.25" fill="#000"/>
<polyline points="276.11,216.05 276.61,215.98 277.11,215.91 277.61,215.84 278.11,215.76 278.61,215.69 279.11,215.61 279.61,215.52 280.11,215.44 280.61,215.35 281.11,215.25 281.61,215.16 282.11,215.06 282.61,214.96 283.11,214.85 283.61,214.75 284.11,214.63 284.61,214.52 285.11,214.39 285.61,214.27 286.11,214.14 286.61,214 287.11,213.86 287.61,213.72 288.11,213.57 288.61,213.41 289.11,213.25 289.61,213.08 290.11,212.91 290.61,212.72 291.11,212.54 291.61,212.34 292.11,212.13 292.61,211.92 293.11,211.7 293.61,211.47 294.11,211.23 294.61,210.97 295.11,210.71 295.61,210.44 296.11,210.15 296.61,209.85 297.11,209.53 297.61,209.2 298.11,208.86 298.61,208.49 299.11,208.11 299.61,207.71 300.11,207.28 300.61,206.83 301.11,206.36 301.61,205.86 302.11,205.33 302.61,204.77 303.11,204.17 303.61,203.53 304.11,202.84 304.61,202.11 305.11,201.32 305.61,200.47 308,195.23 310.5,186.95 313.25,162.6 316.1,178.2 318.6,200.61 320.6,206.99 322.6,212.11 324.6,216.47 326.4,219.94 328.1,222.94 329.8,225.72 331.2,227.89 332.8,230.25 334.5,232.64 335.9,234.54 337.5,236.64 339.3,238.92 341,241.02 343.1,243.54 346,246.91 346.5,247.48 347,248.05 347.5,248.61 348,249.17 348.5,249.73 349,250.29 349.5,250.84 350,251.4 350.5,251.95 351,252.49 351.5,253.04 352,253.58 352.5,254.12 353,254.66 353.5,255.2 354,255.74 354.5,256.27 355,256.8 355.5,257.34 356,257.87 356.5,258.39 357,258.92 357.5,259.45 358,259.97 358.5,260.49 359,261.01 359.5,261.54 360,262.05 360.5,262.57 361,263.09 361.5,263.61 362,264.12 362.5,264.63 363,265.15 363.5,265.66 364,266.17 364.5,266.68 365,267.19 365.5,267.7 366,268.21 366.5,268.71 367,269.22 367.5,269.73 368,270.23 368.5,270.74 369,271.24 369.5,271.74 370,272.24 370.5,272.75 371,273.25 371.5,273.75 372,274.25 372.5,274.75 373,275.25 373.5,275.75 374,276.24 374.5,276.74 375,277.24 375.26,277.5" fill="none" stroke="#000" stroke-width="0.8" stroke-dasharray="4.2 2.0" />
<polyline points="276.11,255.86 276.61,255.83 277.11,255.8 277.61,255.76 278.11,255.73 278.61,255.69 279.11,255.66 279.61,255.62 280.11,255.58 280.61,255.54 281.11,255.5 281.61,255.46 282.11,255.41 282.61,255.37 283.11,255.32 283.61,255.27 284.11,255.22 284.61,255.17 285.11,255.12 285.61,255.06 286.11,255.01 286.61,254.95 287.11,254.89 287.61,254.83 288.11,254.76 288.61,254.7 289.11,254.63 289.61,254.56 290.11,254.49 290.61,254.41 291.11,254.33 291.61,254.25 292.11,254.17 292.61,254.08 293.11,254 293.61,253.9 294.11,253.81 294.61,253.71 295.11,253.61 295.61,253.5 296.11,253.4 296.61,253.28 297.11,253.17 297.61,253.05 298.11,252.92 298.61,252.79 299.11,252.66 299.61,252.52 300.11,252.37 300.61,252.22 301.11,252.07 301.61,251.91 302.11,251.74 302.61,251.56 303.11,251.38 303.61,251.19 304.11,251 304.61,250.79 305.11,250.58 305.61,250.36 308,249.16 310.5,247.6 313.25,245.38 316.1,242.22 318.6,238.26 320.6,233.63 322.6,226.34 324.6,210.99 326.4,200.7 328.1,223.24 329.8,233.49 331.2,239.31 332.8,244.55 334.5,249.14 335.9,252.42 337.5,255.78 339.3,259.19 341,262.15 343.1,265.52 346,269.8 346.5,270.51 347,271.2 347.5,271.89 348,272.56 348.5,273.24 349,273.9 349.5,274.55 350,275.2 350.5,275.85 351,276.49 351.5,277.12 351.81,277.5" fill="none" stroke="#000" stroke-width="0.8" stroke-dasharray="4.2 2.0" />
<polyline points="329.8,277.5 329.8,277.49 331.2,267.11 332.8,220.48 334.5,271.08 335.35,277.5" fill="none" stroke="#000" stroke-width="0.8" stroke-dasharray="4.2 2.0" />
<polyline points="276.4,182.7 288,186.9 295.5,191.25 300.5,193.75 305.5,194.4 308,193.1 309.9,188.75 310.5,186.75 311.1,185 313.25,162.4 316.1,178 318,189.9 319.25,195 320.5,200 322.5,201.9 324.4,196.25 326.25,183.75 328.75,197.5 329.4,208.75 330.6,211.25 332.75,207.5 335,211.9 338.75,213.1 341,213.23 343.1,213.57 346.25,214.05 349.4,214.55 352.55,215.13 355.7,215.83 358.85,216.7 362,217.79 365.15,219.12 368.3,220.71 371.45,222.56 374.6,224.65 377.75,226.95 380.9,229.43 384.05,232.06 387.2,234.79 390.35,237.61 393.5,240.49 396.65,243.41 399.8,246.37 402.95,249.35 406.1,252.35 409.25,255.35 412.4,258.37 415.55,261.39 418.7,264.42 421.85,267.44 422.5,268.07" fill="none" stroke="#000" stroke-width="1.2" stroke-linejoin="round"/>
<polyline points="276.11,182.75 276.49,182.87 276.87,183 277.26,183.13 277.64,183.26 278.02,183.4 278.4,183.54 278.78,183.69 279.16,183.84 279.55,183.99 279.93,184.15 280.31,184.31 280.69,184.48 281.07,184.65 281.46,184.82 281.84,185 282.22,185.18 282.6,185.37 282.98,185.55 283.37,185.75 283.75,185.94 284.13,186.15 284.51,186.35 284.89,186.56 285.28,186.77 285.66,186.99 286.04,187.21 286.42,187.43 286.8,187.66 287.18,187.89 287.57,188.13 287.95,188.37 288.33,188.61 288.71,188.86 289.09,189.11 289.48,189.36 289.86,189.62 290.24,189.88 290.62,190.14 291,190.41 291.39,190.67 291.77,190.95 292.15,191.22 292.53,191.5 292.91,191.78 293.3,192.07 293.68,192.35 294.06,192.64 294.44,192.94 294.82,193.23 295.2,193.53 295.59,193.83 295.97,194.13 296.35,194.43 296.73,194.74 297.11,195.05 297.5,195.36 297.88,195.67 298.26,195.99 298.64,196.31 299.02,196.62 299.41,196.94 299.79,197.27 300.17,197.59 300.55,197.92 300.93,198.24 301.31,198.57 301.7,198.9 302.08,199.23 302.46,199.57 302.84,199.9 303.22,200.24 303.61,200.57 303.99,200.91 304.37,201.25 304.75,201.59 305.13,201.93 305.52,202.28 305.9,202.62 306.28,202.96 306.66,203.31 307.04,203.66 307.43,204 307.81,204.35 308.19,204.7 308.57,205.05 308.95,205.4 309.33,205.75 309.72,206.1 310.1,206.46 310.48,206.81 310.86,207.16 311.24,207.52 311.63,207.87 312.01,208.23 312.39,208.58 312.77,208.94 313.15,209.3 313.54,209.65 313.92,210.01 314.3,210.37 314.68,210.73 315.06,211.09 315.45,211.44 315.83,211.8 316.21,212.16 316.59,212.52 316.97,212.89 317.35,213.25 317.74,213.61 318.12,213.97 318.5,214.33 318.88,214.69 319.26,215.06 319.65,215.42 320.03,215.78 320.41,216.14 320.79,216.51 321.17,216.87 321.56,217.23 321.94,217.6 322.32,217.96 322.7,218.32 323.08,218.69 323.46,219.05 323.85,219.42 324.23,219.78 324.61,220.15 324.99,220.51 325.37,220.88 325.76,221.24 326.14,221.61 326.52,221.97 326.9,222.34 327.28,222.7 327.67,223.07 328.05,223.44 328.43,223.8 328.81,224.17 329.19,224.53 329.58,224.9 329.96,225.27 330.34,225.63 330.72,226 331.1,226.37 331.48,226.73 331.87,227.1 332.25,227.47 332.63,227.83 333.01,228.2 333.39,228.57 333.78,228.93 334.16,229.3 334.54,229.67 334.92,230.03 335.3,230.4 335.69,230.77 336.07,231.13 336.45,231.5 336.83,231.87 337.21,232.24 337.6,232.6 337.98,232.97 338.36,233.34 338.74,233.7 339.12,234.07 339.5,234.44 339.89,234.81 340.27,235.17 340.65,235.54 341.03,235.91 341.41,236.28 341.8,236.64 342.18,237.01 342.56,237.38 342.94,237.75 343.32,238.11 343.71,238.48 344.09,238.85 344.47,239.22 344.85,239.58 345.23,239.95 345.62,240.32 346,240.69 346.38,241.06 346.76,241.42 347.14,241.79 347.52,242.16 347.91,242.53 348.29,242.89 348.67,243.26 349.05,243.63 349.43,244 349.82,244.36 350.2,244.73 350.58,245.1 350.96,245.47 351.34,245.84 351.73,246.2 352.11,246.57 352.49,246.94 352.87,247.31 353.25,247.67 353.63,248.04 354.02,248.41 354.4,248.78 354.78,249.15 355.16,249.51 355.54,249.88 355.93,250.25 356.31,250.62 356.69,250.99 357.07,251.35 357.45,251.72 357.84,252.09 358.22,252.46 358.6,252.82 358.98,253.19 359.36,253.56 359.75,253.93 360.13,254.3 360.51,254.66 360.89,255.03 361.27,255.4 361.65,255.77 362.04,256.14 362.42,256.5 362.8,256.87 363.18,257.24 363.56,257.61 363.95,257.98 364.33,258.34 364.71,258.71 365.09,259.08 365.47,259.45 365.86,259.81 366.24,260.18 366.62,260.55 367,260.92 367.38,261.29 367.77,261.65 368.15,262.02 368.53,262.39 368.91,262.76 369.29,263.13 369.67,263.49 370.06,263.86 370.44,264.23 370.82,264.6 371.2,264.97 371.58,265.33 371.97,265.7 372.35,266.07 372.73,266.44 373.11,266.81 373.49,267.17 373.88,267.54 374.26,267.91 374.64,268.28 375.02,268.64 375.4,269.01 375.78,269.38 376.17,269.75 376.55,270.12 376.93,270.48 377.31,270.85 377.69,271.22 378.08,271.59 378.46,271.96 378.84,272.32 379.22,272.69 379.6,273.06 379.99,273.43 380.37,273.8 380.75,274.16 381.13,274.53 381.51,274.9 381.9,275.27 382.28,275.64 382.66,276 383.04,276.37 383.42,276.74 383.8,277.11 384.19,277.48" fill="none" stroke="#0000ff" stroke-width="1.5" />
<polyline points="276.11,213.76 276.6,213.76 277.09,213.76 277.57,213.76 278.06,213.76 278.55,213.76 279.04,213.76 279.52,213.76 280.01,213.76 280.5,213.76 280.99,213.76 281.48,213.76 281.96,213.76 282.45,213.76 282.94,213.76 283.43,213.76 283.92,213.76 284.4,213.76 284.89,213.76 285.38,213.76 285.87,213.76 286.36,213.76 286.84,213.76 287.33,213.76 287.82,213.76 288.31,213.76 288.8,213.76 289.28,213.76 289.77,213.76 290.26,213.76 290.75,213.76 291.23,213.76 291.72,213.76 292.21,213.76 292.7,213.76 293.19,213.76 293.67,213.76 294.16,213.76 294.65,213.76 295.14,213.76 295.63,213.76 296.11,213.76 296.6,213.76 297.09,213.76 297.58,213.76 298.07,213.76 298.55,213.76 299.04,213.76 299.53,213.76 300.02,213.76 300.5,213.76 300.99,213.76 301.48,213.76 301.97,213.76 302.46,213.76 302.94,213.76 303.43,213.77 303.92,213.77 304.41,213.77 304.9,213.77 305.38,213.77 305.87,213.77 306.36,213.77 306.85,213.77 307.34,213.77 307.82,213.77 308.31,213.77 308.8,213.77 309.29,213.77 309.77,213.77 310.26,213.77 310.75,213.77 311.24,213.78 311.73,213.78 312.21,213.78 312.7,213.78 313.19,213.78 313.68,213.78 314.17,213.78 314.65,213.78 315.14,213.79 315.63,213.79 316.12,213.79 316.61,213.79 317.09,213.79 317.58,213.79 318.07,213.8 318.56,213.8 319.04,213.8 319.53,213.8 320.02,213.8 320.51,213.81 321,213.81 321.48,213.81 321.97,213.82 322.46,213.82 322.95,213.82 323.44,213.83 323.92,213.83 324.41,213.83 324.9,213.84 325.39,213.84 325.88,213.85 326.36,213.85 326.85,213.86 327.34,213.86 327.83,213.87 328.32,213.88 328.8,213.88 329.29,213.89 329.78,213.9 330.27,213.91 330.75,213.91 331.24,213.92 331.73,213.93 332.22,213.94 332.71,213.95 333.19,213.96 333.68,213.97 334.17,213.99 334.66,214 335.15,214.01 335.63,214.03 336.12,214.04 336.61,214.06 337.1,214.07 337.59,214.09 338.07,214.11 338.56,214.13 339.05,214.15 339.54,214.17 340.02,214.2 340.51,214.22 341,214.25 341.49,214.27 341.98,214.3 342.46,214.33 342.95,214.36 343.44,214.39 343.93,214.43 344.42,214.47 344.9,214.5 345.39,214.54 345.88,214.59 346.37,214.63 346.86,214.68 347.34,214.73 347.83,214.78 348.32,214.83 348.81,214.89 349.29,214.95 349.78,215.01 350.27,215.08 350.76,215.15 351.25,215.22 351.73,215.3 352.22,215.38 352.71,215.46 353.2,215.55 353.69,215.64 354.17,215.73 354.66,215.83 355.15,215.93 355.64,216.04 356.13,216.15 356.61,216.27 357.1,216.39 357.59,216.52 358.08,216.66 358.56,216.79 359.05,216.94 359.54,217.09 360.03,217.24 360.52,217.4 361,217.57 361.49,217.74 361.98,217.92 362.47,218.1 362.96,218.29 363.44,218.49 363.93,218.69 364.42,218.9 364.91,219.12 365.4,219.34 365.88,219.57 366.37,219.81 366.86,220.05 367.35,220.3 367.84,220.55 368.32,220.81 368.81,221.08 369.3,221.35 369.79,221.64 370.27,221.92 370.76,222.21 371.25,222.51 371.74,222.82 372.23,223.13 372.71,223.44 373.2,223.77 373.69,224.09 374.18,224.43 374.67,224.76 375.15,225.11 375.64,225.46 376.13,225.81 376.62,226.17 377.11,226.53 377.59,226.9 378.08,227.27 378.57,227.64 379.06,228.02 379.54,228.41 380.03,228.8 380.52,229.19 381.01,229.58 381.5,229.98 381.98,230.38 382.47,230.79 382.96,231.19 383.45,231.6 383.94,232.02 384.42,232.43 384.91,232.85 385.4,233.27 385.89,233.7 386.38,234.12 386.86,234.55 387.35,234.98 387.84,235.41 388.33,235.85 388.81,236.28 389.3,236.72 389.79,237.16 390.28,237.6 390.77,238.04 391.25,238.48 391.74,238.93 392.23,239.38 392.72,239.82 393.21,240.27 393.69,240.72 394.18,241.17 394.67,241.62 395.16,242.08 395.65,242.53 396.13,242.98 396.62,243.44 397.11,243.9 397.6,244.35 398.08,244.81 398.57,245.27 399.06,245.73 399.55,246.19 400.04,246.65 400.52,247.11 401.01,247.57 401.5,248.03 401.99,248.49 402.48,248.95 402.96,249.41 403.45,249.88 403.94,250.34 404.43,250.81 404.92,251.27 405.4,251.73 405.89,252.2 406.38,252.66 406.87,253.13 407.35,253.59 407.84,254.06 408.33,254.53 408.82,254.99 409.31,255.46 409.79,255.93 410.28,256.39 410.77,256.86 411.26,257.33 411.75,257.79 412.23,258.26 412.72,258.73 413.21,259.2 413.7,259.66 414.19,260.13 414.67,260.6 415.16,261.07 415.65,261.54 416.14,262.01 416.63,262.47 417.11,262.94 417.6,263.41 418.09,263.88 418.58,264.35 419.06,264.82 419.55,265.29 420.04,265.76 420.53,266.22 421.02,266.69 421.5,267.16 421.99,267.63 422.48,268.1" fill="none" stroke="#ff0000" stroke-width="1.6" />
<line x1="276.4" y1="177.4" x2="276.4" y2="186.1" stroke="#000" stroke-width="1"/>
<circle cx="276.4" cy="179.9" r="1.25" fill="#000"/>
<line x1="288.6" y1="185.5" x2="288.6" y2="188.5" stroke="#000" stroke-width="1"/>
<circle cx="288.6" cy="186.9" r="1.25" fill="#000"/>
<line x1="295.5" y1="192.5" x2="295.5" y2="198.1" stroke="#000" stroke-width="1"/>
<circle cx="295.5" cy="195.6" r="1.25" fill="#000"/>
<line x1="300.75" y1="189.4" x2="300.75" y2="194.4" stroke="#000" stroke-width="1"/>
<circle cx="300.75" cy="191.9" r="1.25" fill="#000"/>
<line x1="305.25" y1="192.5" x2="305.25" y2="195.5" stroke="#000" stroke-width="1"/>
<circle cx="305.25" cy="194" r="1.25" fill="#000"/>
<line x1="308" y1="192.5" x2="308" y2="195" stroke="#000" stroke-width="1"/>
<circle cx="308" cy="193.75" r="1.25" fill="#000"/>
<line x1="310.5" y1="185.9" x2="310.5" y2="187.9" stroke="#000" stroke-width="1"/>
<circle cx="310.5" cy="186.9" r="1.25" fill="#000"/>
<line x1="313.25" y1="161.4" x2="313.25" y2="163.4" stroke="#000" stroke-width="1"/>
<circle cx="313.25" cy="162.4" r="1.25" fill="#000"/>
<line x1="316.1" y1="176.5" x2="316.1" y2="179.5" stroke="#000" stroke-width="1"/>
<circle cx="316.1" cy="178" r="1.25" fill="#000"/>
<line x1="318.6" y1="188.8" x2="318.6" y2="191.3" stroke="#000" stroke-width="1"/>
<circle cx="318.6" cy="190" r="1.25" fill="#000"/>
<line x1="320.6" y1="196" x2="320.6" y2="199" stroke="#000" stroke-width="1"/>
<circle cx="320.6" cy="197.5" r="1.25" fill="#000"/>
<line x1="322.6" y1="200" x2="322.6" y2="203" stroke="#000" stroke-width="1"/>
<circle cx="322.6" cy="201.5" r="1.25" fill="#000"/>
<line x1="324.6" y1="194" x2="324.6" y2="198" stroke="#000" stroke-width="1"/>
<circle cx="324.6" cy="196" r="1.25" fill="#000"/>
<line x1="326.4" y1="184" x2="326.4" y2="190" stroke="#000" stroke-width="1"/>
<circle cx="326.4" cy="186.9" r="1.25" fill="#000"/>
<line x1="328.4" y1="195.5" x2="328.4" y2="199.5" stroke="#000" stroke-width="1"/>
<circle cx="328.4" cy="197.5" r="1.25" fill="#000"/>
<line x1="329.8" y1="207" x2="329.8" y2="211" stroke="#000" stroke-width="1"/>
<circle cx="329.8" cy="209" r="1.25" fill="#000"/>
<line x1="332" y1="205.5" x2="332" y2="210" stroke="#000" stroke-width="1"/>
<circle cx="332" cy="207.75" r="1.25" fill="#000"/>
<line x1="335.75" y1="212" x2="335.75" y2="217.5" stroke="#000" stroke-width="1"/>
<circle cx="335.75" cy="214.5" r="1.25" fill="#000"/>
<line x1="339" y1="212.5" x2="339" y2="217" stroke="#000" stroke-width="1"/>
<circle cx="339" cy="214.5" r="1.25" fill="#000"/>
<line x1="342.5" y1="209" x2="342.5" y2="213.5" stroke="#000" stroke-width="1"/>
<circle cx="342.5" cy="211" r="1.25" fill="#000"/>
<line x1="345.75" y1="211" x2="345.75" y2="216" stroke="#000" stroke-width="1"/>
<circle cx="345.75" cy="213.5" r="1.25" fill="#000"/>
<line x1="349" y1="206" x2="349" y2="210" stroke="#000" stroke-width="1"/>
<circle cx="349" cy="207.75" r="1.25" fill="#000"/>
<line x1="352" y1="209" x2="352" y2="213" stroke="#000" stroke-width="1"/>
<circle cx="352" cy="211" r="1.25" fill="#000"/>
<line x1="355" y1="211" x2="355" y2="215" stroke="#000" stroke-width="1"/>
<circle cx="355" cy="212.75" r="1.25" fill="#000"/>
<line x1="358.25" y1="213.5" x2="358.25" y2="218" stroke="#000" stroke-width="1"/>
<circle cx="358.25" cy="215.25" r="1.25" fill="#000"/>
<line x1="362" y1="217" x2="362" y2="221.5" stroke="#000" stroke-width="1"/>
<circle cx="362" cy="219" r="1.25" fill="#000"/>
<line x1="365" y1="217" x2="365" y2="221" stroke="#000" stroke-width="1"/>
<circle cx="365" cy="219" r="1.25" fill="#000"/>
<line x1="368.25" y1="217.5" x2="368.25" y2="222" stroke="#000" stroke-width="1"/>
<circle cx="368.25" cy="219.5" r="1.25" fill="#000"/>
<line x1="371.5" y1="221.5" x2="371.5" y2="226" stroke="#000" stroke-width="1"/>
<circle cx="371.5" cy="223.5" r="1.25" fill="#000"/>
<line x1="374.5" y1="224" x2="374.5" y2="236.5" stroke="#000" stroke-width="1"/>
<circle cx="374.5" cy="229" r="1.25" fill="#000"/>
<line x1="378.25" y1="225" x2="378.25" y2="230" stroke="#000" stroke-width="1"/>
<circle cx="378.25" cy="227" r="1.25" fill="#000"/>
<line x1="381.5" y1="225.5" x2="381.5" y2="231" stroke="#000" stroke-width="1"/>
<circle cx="381.5" cy="227.75" r="1.25" fill="#000"/>
<line x1="384.5" y1="228" x2="384.5" y2="235" stroke="#000" stroke-width="1"/>
<circle cx="384.5" cy="231" r="1.25" fill="#000"/>
<line x1="387.75" y1="227.5" x2="387.75" y2="234" stroke="#000" stroke-width="1"/>
<circle cx="387.75" cy="230.25" r="1.25" fill="#000"/>
<line x1="390.75" y1="231.5" x2="390.75" y2="246.5" stroke="#000" stroke-width="1"/>
<circle cx="390.75" cy="235.25" r="1.25" fill="#000"/>
<line x1="397.5" y1="229" x2="397.5" y2="237.75" stroke="#000" stroke-width="1"/>
<circle cx="397.5" cy="232.75" r="1.25" fill="#000"/>
<line x1="400.75" y1="237.75" x2="400.75" y2="277.5" stroke="#000" stroke-width="1"/>
<circle cx="400.75" cy="243.5" r="1.25" fill="#000"/>
<line x1="404" y1="234" x2="404" y2="244" stroke="#000" stroke-width="1"/>
<circle cx="404" cy="236.5" r="1.25" fill="#000"/>
<line x1="407" y1="236.5" x2="407" y2="247.75" stroke="#000" stroke-width="1"/>
<circle cx="407" cy="240.25" r="1.25" fill="#000"/>
<line x1="410.25" y1="241.5" x2="410.25" y2="277.5" stroke="#000" stroke-width="1"/>
<circle cx="410.25" cy="247" r="1.25" fill="#000"/>
<line x1="413.25" y1="241.5" x2="413.25" y2="277.5" stroke="#000" stroke-width="1"/>
<circle cx="413.25" cy="256.5" r="1.25" fill="#000"/>
<line x1="416.5" y1="241.5" x2="416.5" y2="277.5" stroke="#000" stroke-width="1"/>
<circle cx="416.5" cy="247" r="1.25" fill="#000"/>
<rect x="37.5" y="4.5" width="175.1" height="124" fill="none" stroke="#000" stroke-width="1"/>
<line x1="55.05" y1="128.5" x2="55.05" y2="124.5" stroke="#000" stroke-width="1"/>
<line x1="55.05" y1="4.5" x2="55.05" y2="8.5" stroke="#000" stroke-width="1"/>
<line x1="67.34" y1="128.5" x2="67.34" y2="124.5" stroke="#000" stroke-width="1"/>
<line x1="67.34" y1="4.5" x2="67.34" y2="8.5" stroke="#000" stroke-width="1"/>
<line x1="76.88" y1="128.5" x2="76.88" y2="124.5" stroke="#000" stroke-width="1"/>
<line x1="76.88" y1="4.5" x2="76.88" y2="8.5" stroke="#000" stroke-width="1"/>
<line x1="84.67" y1="128.5" x2="84.67" y2="124.5" stroke="#000" stroke-width="1"/>
<line x1="84.67" y1="4.5" x2="84.67" y2="8.5" stroke="#000" stroke-width="1"/>
<line x1="91.26" y1="128.5" x2="91.26" y2="124.5" stroke="#000" stroke-width="1"/>
<line x1="91.26" y1="4.5" x2="91.26" y2="8.5" stroke="#000" stroke-width="1"/>
<line x1="96.96" y1="128.5" x2="96.96" y2="124.5" stroke="#000" stroke-width="1"/>
<line x1="96.96" y1="4.5" x2="96.96" y2="8.5" stroke="#000" stroke-width="1"/>
<line x1="102" y1="128.5" x2="102" y2="124.5" stroke="#000" stroke-width="1"/>
<line x1="102" y1="4.5" x2="102" y2="8.5" stroke="#000" stroke-width="1"/>
<line x1="106.5" y1="128.5" x2="106.5" y2="121" stroke="#000" stroke-width="1"/>
<line x1="106.5" y1="4.5" x2="106.5" y2="12" stroke="#000" stroke-width="1"/>
<line x1="136.12" y1="128.5" x2="136.12" y2="124.5" stroke="#000" stroke-width="1"/>
<line x1="136.12" y1="4.5" x2="136.12" y2="8.5" stroke="#000" stroke-width="1"/>
<line x1="153.45" y1="128.5" x2="153.45" y2="124.5" stroke="#000" stroke-width="1"/>
<line x1="153.45" y1="4.5" x2="153.45" y2="8.5" stroke="#000" stroke-width="1"/>
<line x1="165.74" y1="128.5" x2="165.74" y2="124.5" stroke="#000" stroke-width="1"/>
<line x1="165.74" y1="4.5" x2="165.74" y2="8.5" stroke="#000" stroke-width="1"/>
<line x1="175.28" y1="128.5" x2="175.28" y2="124.5" stroke="#000" stroke-width="1"/>
<line x1="175.28" y1="4.5" x2="175.28" y2="8.5" stroke="#000" stroke-width="1"/>
<line x1="183.07" y1="128.5" x2="183.07" y2="124.5" stroke="#000" stroke-width="1"/>
<line x1="183.07" y1="4.5" x2="183.07" y2="8.5" stroke="#000" stroke-width="1"/>
<line x1="189.66" y1="128.5" x2="189.66" y2="124.5" stroke="#000" stroke-width="1"/>
<line x1="189.66" y1="4.5" x2="189.66" y2="8.5" stroke="#000" stroke-width="1"/>
<line x1="195.36" y1="128.5" x2="195.36" y2="124.5" stroke="#000" stroke-width="1"/>
<line x1="195.36" y1="4.5" x2="195.36" y2="8.5" stroke="#000" stroke-width="1"/>
<line x1="200.4" y1="128.5" x2="200.4" y2="124.5" stroke="#000" stroke-width="1"/>
<line x1="200.4" y1="4.5" x2="200.4" y2="8.5" stroke="#000" stroke-width="1"/>
<line x1="204.9" y1="128.5" x2="204.9" y2="121" stroke="#000" stroke-width="1"/>
<line x1="204.9" y1="4.5" x2="204.9" y2="12" stroke="#000" stroke-width="1"/>
<line x1="37.5" y1="119.35" x2="41.5" y2="119.35" stroke="#000" stroke-width="1"/>
<line x1="212.6" y1="119.35" x2="208.6" y2="119.35" stroke="#000" stroke-width="1"/>
<line x1="37.5" y1="114" x2="41.5" y2="114" stroke="#000" stroke-width="1"/>
<line x1="212.6" y1="114" x2="208.6" y2="114" stroke="#000" stroke-width="1"/>
<line x1="37.5" y1="110.2" x2="41.5" y2="110.2" stroke="#000" stroke-width="1"/>
<line x1="212.6" y1="110.2" x2="208.6" y2="110.2" stroke="#000" stroke-width="1"/>
<line x1="37.5" y1="107.25" x2="41.5" y2="107.25" stroke="#000" stroke-width="1"/>
<line x1="212.6" y1="107.25" x2="208.6" y2="107.25" stroke="#000" stroke-width="1"/>
<line x1="37.5" y1="104.84" x2="41.5" y2="104.84" stroke="#000" stroke-width="1"/>
<line x1="212.6" y1="104.84" x2="208.6" y2="104.84" stroke="#000" stroke-width="1"/>
<line x1="37.5" y1="102.81" x2="41.5" y2="102.81" stroke="#000" stroke-width="1"/>
<line x1="212.6" y1="102.81" x2="208.6" y2="102.81" stroke="#000" stroke-width="1"/>
<line x1="37.5" y1="101.05" x2="41.5" y2="101.05" stroke="#000" stroke-width="1"/>
<line x1="212.6" y1="101.05" x2="208.6" y2="101.05" stroke="#000" stroke-width="1"/>
<line x1="37.5" y1="99.49" x2="41.5" y2="99.49" stroke="#000" stroke-width="1"/>
<line x1="212.6" y1="99.49" x2="208.6" y2="99.49" stroke="#000" stroke-width="1"/>
<line x1="37.5" y1="98.1" x2="45" y2="98.1" stroke="#000" stroke-width="1"/>
<line x1="212.6" y1="98.1" x2="205.1" y2="98.1" stroke="#000" stroke-width="1"/>
<line x1="37.5" y1="88.95" x2="41.5" y2="88.95" stroke="#000" stroke-width="1"/>
<line x1="212.6" y1="88.95" x2="208.6" y2="88.95" stroke="#000" stroke-width="1"/>
<line x1="37.5" y1="83.6" x2="41.5" y2="83.6" stroke="#000" stroke-width="1"/>
<line x1="212.6" y1="83.6" x2="208.6" y2="83.6" stroke="#000" stroke-width="1"/>
<line x1="37.5" y1="79.8" x2="41.5" y2="79.8" stroke="#000" stroke-width="1"/>
<line x1="212.6" y1="79.8" x2="208.6" y2="79.8" stroke="#000" stroke-width="1"/>
<line x1="37.5" y1="76.85" x2="41.5" y2="76.85" stroke="#000" stroke-width="1"/>
<line x1="212.6" y1="76.85" x2="208.6" y2="76.85" stroke="#000" stroke-width="1"/>
<line x1="37.5" y1="74.44" x2="41.5" y2="74.44" stroke="#000" stroke-width="1"/>
<line x1="212.6" y1="74.44" x2="208.6" y2="74.44" stroke="#000" stroke-width="1"/>
<line x1="37.5" y1="72.41" x2="41.5" y2="72.41" stroke="#000" stroke-width="1"/>
<line x1="212.6" y1="72.41" x2="208.6" y2="72.41" stroke="#000" stroke-width="1"/>
<line x1="37.5" y1="70.65" x2="41.5" y2="70.65" stroke="#000" stroke-width="1"/>
<line x1="212.6" y1="70.65" x2="208.6" y2="70.65" stroke="#000" stroke-width="1"/>
<line x1="37.5" y1="69.09" x2="41.5" y2="69.09" stroke="#000" stroke-width="1"/>
<line x1="212.6" y1="69.09" x2="208.6" y2="69.09" stroke="#000" stroke-width="1"/>
<line x1="37.5" y1="67.7" x2="45" y2="67.7" stroke="#000" stroke-width="1"/>
<line x1="212.6" y1="67.7" x2="205.1" y2="67.7" stroke="#000" stroke-width="1"/>
<line x1="37.5" y1="58.55" x2="41.5" y2="58.55" stroke="#000" stroke-width="1"/>
<line x1="212.6" y1="58.55" x2="208.6" y2="58.55" stroke="#000" stroke-width="1"/>
<line x1="37.5" y1="53.2" x2="41.5" y2="53.2" stroke="#000" stroke-width="1"/>
<line x1="212.6" y1="53.2" x2="208.6" y2="53.2" stroke="#000" stroke-width="1"/>
<line x1="37.5" y1="49.4" x2="41.5" y2="49.4" stroke="#000" stroke-width="1"/>
<line x1="212.6" y1="49.4" x2="208.6" y2="49.4" stroke="#000" stroke-width="1"/>
<line x1="37.5" y1="46.45" x2="41.5" y2="46.45" stroke="#000" stroke-width="1"/>
<line x1="212.6" y1="46.45" x2="208.6" y2="46.45" stroke="#000" stroke-width="1"/>
<line x1="37.5" y1="44.04" x2="41.5" y2="44.04" stroke="#000" stroke-width="1"/>
<line x1="212.6" y1="44.04" x2="208.6" y2="44.04" stroke="#000" stroke-width="1"/>
<line x1="37.5" y1="42.01" x2="41.5" y2="42.01" stroke="#000" stroke-width="1"/>
<line x1="212.6" y1="42.01" x2="208.6" y2="42.01" stroke="#000" stroke-width="1"/>
<line x1="37.5" y1="40.25" x2="41.5" y2="40.25" stroke="#000" stroke-width="1"/>
<line x1="212.6" y1="40.25" x2="208.6" y2="40.25" stroke="#000" stroke-width="1"/>
<line x1="37.5" y1="38.69" x2="41.5" y2="38.69" stroke="#000" stroke-width="1"/>
<line x1="212.6" y1="38.69" x2="208.6" y2="38.69" stroke="#000" stroke-width="1"/>
<line x1="37.5" y1="37.3" x2="45" y2="37.3" stroke="#000" stroke-width="1"/>
<line x1="212.6" y1="37.3" x2="205.1" y2="37.3" stroke="#000" stroke-width="1"/>
<line x1="37.5" y1="28.15" x2="41.5" y2="28.15" stroke="#000" stroke-width="1"/>
<line x1="212.6" y1="28.15" x2="208.6" y2="28.15" stroke="#000" stroke-width="1"/>
<line x1="37.5" y1="22.8" x2="41.5" y2="22.8" stroke="#000" stroke-width="1"/>
<line x1="212.6" y1="22.8" x2="208.6" y2="22.8" stroke="#000" stroke-width="1"/>
<line x1="37.5" y1="19" x2="41.5" y2="19" stroke="#000" stroke-width="1"/>
<line x1="212.6" y1="19" x2="208.6" y2="19" stroke="#000" stroke-width="1"/>
<line x1="37.5" y1="16.05" x2="41.5" y2="16.05" stroke="#000" stroke-width="1"/>
<line x1="212.6" y1="16.05" x2="208.6" y2="16.05" stroke="#000" stroke-width="1"/>
<line x1="37.5" y1="13.64" x2="41.5" y2="13.64" stroke="#000" stroke-width="1"/>
<line x1="212.6" y1="13.64" x2="208.6" y2="13.64" stroke="#000" stroke-width="1"/>
<line x1="37.5" y1="11.61" x2="41.5" y2="11.61" stroke="#000" stroke-width="1"/>
<line x1="212.6" y1="11.61" x2="208.6" y2="11.61" stroke="#000" stroke-width="1"/>
<line x1="37.5" y1="9.85" x2="41.5" y2="9.85" stroke="#000" stroke-width="1"/>
<line x1="212.6" y1="9.85" x2="208.6" y2="9.85" stroke="#000" stroke-width="1"/>
<line x1="37.5" y1="8.29" x2="41.5" y2="8.29" stroke="#000" stroke-width="1"/>
<line x1="212.6" y1="8.29" x2="208.6" y2="8.29" stroke="#000" stroke-width="1"/>
<line x1="37.5" y1="6.9" x2="45" y2="6.9" stroke="#000" stroke-width="1"/>
<line x1="212.6" y1="6.9" x2="205.1" y2="6.9" stroke="#000" stroke-width="1"/>
<rect x="37.5" y="153.5" width="175.1" height="124" fill="none" stroke="#000" stroke-width="1"/>
<line x1="55.05" y1="277.5" x2="55.05" y2="273.5" stroke="#000" stroke-width="1"/>
<line x1="55.05" y1="153.5" x2="55.05" y2="157.5" stroke="#000" stroke-width="1"/>
<line x1="67.34" y1="277.5" x2="67.34" y2="273.5" stroke="#000" stroke-width="1"/>
<line x1="67.34" y1="153.5" x2="67.34" y2="157.5" stroke="#000" stroke-width="1"/>
<line x1="76.88" y1="277.5" x2="76.88" y2="273.5" stroke="#000" stroke-width="1"/>
<line x1="76.88" y1="153.5" x2="76.88" y2="157.5" stroke="#000" stroke-width="1"/>
<line x1="84.67" y1="277.5" x2="84.67" y2="273.5" stroke="#000" stroke-width="1"/>
<line x1="84.67" y1="153.5" x2="84.67" y2="157.5" stroke="#000" stroke-width="1"/>
<line x1="91.26" y1="277.5" x2="91.26" y2="273.5" stroke="#000" stroke-width="1"/>
<line x1="91.26" y1="153.5" x2="91.26" y2="157.5" stroke="#000" stroke-width="1"/>
<line x1="96.96" y1="277.5" x2="96.96" y2="273.5" stroke="#000" stroke-width="1"/>
<line x1="96.96" y1="153.5" x2="96.96" y2="157.5" stroke="#000" stroke-width="1"/>
<line x1="102" y1="277.5" x2="102" y2="273.5" stroke="#000" stroke-width="1"/>
<line x1="102" y1="153.5" x2="102" y2="157.5" stroke="#000" stroke-width="1"/>
<line x1="106.5" y1="277.5" x2="106.5" y2="270" stroke="#000" stroke-width="1"/>
<line x1="106.5" y1="153.5" x2="106.5" y2="161" stroke="#000" stroke-width="1"/>
<line x1="136.12" y1="277.5" x2="136.12" y2="273.5" stroke="#000" stroke-width="1"/>
<line x1="136.12" y1="153.5" x2="136.12" y2="157.5" stroke="#000" stroke-width="1"/>
<line x1="153.45" y1="277.5" x2="153.45" y2="273.5" stroke="#000" stroke-width="1"/>
<line x1="153.45" y1="153.5" x2="153.45" y2="157.5" stroke="#000" stroke-width="1"/>
<line x1="165.74" y1="277.5" x2="165.74" y2="273.5" stroke="#000" stroke-width="1"/>
<line x1="165.74" y1="153.5" x2="165.74" y2="157.5" stroke="#000" stroke-width="1"/>
<line x1="175.28" y1="277.5" x2="175.28" y2="273.5" stroke="#000" stroke-width="1"/>
<line x1="175.28" y1="153.5" x2="175.28" y2="157.5" stroke="#000" stroke-width="1"/>
<line x1="183.07" y1="277.5" x2="183.07" y2="273.5" stroke="#000" stroke-width="1"/>
<line x1="183.07" y1="153.5" x2="183.07" y2="157.5" stroke="#000" stroke-width="1"/>
<line x1="189.66" y1="277.5" x2="189.66" y2="273.5" stroke="#000" stroke-width="1"/>
<line x1="189.66" y1="153.5" x2="189.66" y2="157.5" stroke="#000" stroke-width="1"/>
<line x1="195.36" y1="277.5" x2="195.36" y2="273.5" stroke="#000" stroke-width="1"/>
<line x1="195.36" y1="153.5" x2="195.36" y2="157.5" stroke="#000" stroke-width="1"/>
<line x1="200.4" y1="277.5" x2="200.4" y2="273.5" stroke="#000" stroke-width="1"/>
<line x1="200.4" y1="153.5" x2="200.4" y2="157.5" stroke="#000" stroke-width="1"/>
<line x1="204.9" y1="277.5" x2="204.9" y2="270" stroke="#000" stroke-width="1"/>
<line x1="204.9" y1="153.5" x2="204.9" y2="161" stroke="#000" stroke-width="1"/>
<line x1="37.5" y1="268.35" x2="41.5" y2="268.35" stroke="#000" stroke-width="1"/>
<line x1="212.6" y1="268.35" x2="208.6" y2="268.35" stroke="#000" stroke-width="1"/>
<line x1="37.5" y1="263" x2="41.5" y2="263" stroke="#000" stroke-width="1"/>
<line x1="212.6" y1="263" x2="208.6" y2="263" stroke="#000" stroke-width="1"/>
<line x1="37.5" y1="259.2" x2="41.5" y2="259.2" stroke="#000" stroke-width="1"/>
<line x1="212.6" y1="259.2" x2="208.6" y2="259.2" stroke="#000" stroke-width="1"/>
<line x1="37.5" y1="256.25" x2="41.5" y2="256.25" stroke="#000" stroke-width="1"/>
<line x1="212.6" y1="256.25" x2="208.6" y2="256.25" stroke="#000" stroke-width="1"/>
<line x1="37.5" y1="253.84" x2="41.5" y2="253.84" stroke="#000" stroke-width="1"/>
<line x1="212.6" y1="253.84" x2="208.6" y2="253.84" stroke="#000" stroke-width="1"/>
<line x1="37.5" y1="251.81" x2="41.5" y2="251.81" stroke="#000" stroke-width="1"/>
<line x1="212.6" y1="251.81" x2="208.6" y2="251.81" stroke="#000" stroke-width="1"/>
<line x1="37.5" y1="250.05" x2="41.5" y2="250.05" stroke="#000" stroke-width="1"/>
<line x1="212.6" y1="250.05" x2="208.6" y2="250.05" stroke="#000" stroke-width="1"/>
<line x1="37.5" y1="248.49" x2="41.5" y2="248.49" stroke="#000" stroke-width="1"/>
<line x1="212.6" y1="248.49" x2="208.6" y2="248.49" stroke="#000" stroke-width="1"/>
<line x1="37.5" y1="247.1" x2="45" y2="247.1" stroke="#000" stroke-width="1"/>
<line x1="212.6" y1="247.1" x2="205.1" y2="247.1" stroke="#000" stroke-width="1"/>
<line x1="37.5" y1="237.95" x2="41.5" y2="237.95" stroke="#000" stroke-width="1"/>
<line x1="212.6" y1="237.95" x2="208.6" y2="237.95" stroke="#000" stroke-width="1"/>
<line x1="37.5" y1="232.6" x2="41.5" y2="232.6" stroke="#000" stroke-width="1"/>
<line x1="212.6" y1="232.6" x2="208.6" y2="232.6" stroke="#000" stroke-width="1"/>
<line x1="37.5" y1="228.8" x2="41.5" y2="228.8" stroke="#000" stroke-width="1"/>
<line x1="212.6" y1="228.8" x2="208.6" y2="228.8" stroke="#000" stroke-width="1"/>
<line x1="37.5" y1="225.85" x2="41.5" y2="225.85" stroke="#000" stroke-width="1"/>
<line x1="212.6" y1="225.85" x2="208.6" y2="225.85" stroke="#000" stroke-width="1"/>
<line x1="37.5" y1="223.44" x2="41.5" y2="223.44" stroke="#000" stroke-width="1"/>
<line x1="212.6" y1="223.44" x2="208.6" y2="223.44" stroke="#000" stroke-width="1"/>
<line x1="37.5" y1="221.41" x2="41.5" y2="221.41" stroke="#000" stroke-width="1"/>
<line x1="212.6" y1="221.41" x2="208.6" y2="221.41" stroke="#000" stroke-width="1"/>
<line x1="37.5" y1="219.65" x2="41.5" y2="219.65" stroke="#000" stroke-width="1"/>
<line x1="212.6" y1="219.65" x2="208.6" y2="219.65" stroke="#000" stroke-width="1"/>
<line x1="37.5" y1="218.09" x2="41.5" y2="218.09" stroke="#000" stroke-width="1"/>
<line x1="212.6" y1="218.09" x2="208.6" y2="218.09" stroke="#000" stroke-width="1"/>
<line x1="37.5" y1="216.7" x2="45" y2="216.7" stroke="#000" stroke-width="1"/>
<line x1="212.6" y1="216.7" x2="205.1" y2="216.7" stroke="#000" stroke-width="1"/>
<line x1="37.5" y1="207.55" x2="41.5" y2="207.55" stroke="#000" stroke-width="1"/>
<line x1="212.6" y1="207.55" x2="208.6" y2="207.55" stroke="#000" stroke-width="1"/>
<line x1="37.5" y1="202.2" x2="41.5" y2="202.2" stroke="#000" stroke-width="1"/>
<line x1="212.6" y1="202.2" x2="208.6" y2="202.2" stroke="#000" stroke-width="1"/>
<line x1="37.5" y1="198.4" x2="41.5" y2="198.4" stroke="#000" stroke-width="1"/>
<line x1="212.6" y1="198.4" x2="208.6" y2="198.4" stroke="#000" stroke-width="1"/>
<line x1="37.5" y1="195.45" x2="41.5" y2="195.45" stroke="#000" stroke-width="1"/>
<line x1="212.6" y1="195.45" x2="208.6" y2="195.45" stroke="#000" stroke-width="1"/>
<line x1="37.5" y1="193.04" x2="41.5" y2="193.04" stroke="#000" stroke-width="1"/>
<line x1="212.6" y1="193.04" x2="208.6" y2="193.04" stroke="#000" stroke-width="1"/>
<line x1="37.5" y1="191.01" x2="41.5" y2="191.01" stroke="#000" stroke-width="1"/>
<line x1="212.6" y1="191.01" x2="208.6" y2="191.01" stroke="#000" stroke-width="1"/>
<line x1="37.5" y1="189.25" x2="41.5" y2="189.25" stroke="#000" stroke-width="1"/>
<line x1="212.6" y1="189.25" x2="208.6" y2="189.25" stroke="#000" stroke-width="1"/>
<line x1="37.5" y1="187.69" x2="41.5" y2="187.69" stroke="#000" stroke-width="1"/>
<line x1="212.6" y1="187.69" x2="208.6" y2="187.69" stroke="#000" stroke-width="1"/>
<line x1="37.5" y1="186.3" x2="45" y2="186.3" stroke="#000" stroke-width="1"/>
<line x1="212.6" y1="186.3" x2="205.1" y2="186.3" stroke="#000" stroke-width="1"/>
<line x1="37.5" y1="177.15" x2="41.5" y2="177.15" stroke="#000" stroke-width="1"/>
<line x1="212.6" y1="177.15" x2="208.6" y2="177.15" stroke="#000" stroke-width="1"/>
<line x1="37.5" y1="171.8" x2="41.5" y2="171.8" stroke="#000" stroke-width="1"/>
<line x1="212.6" y1="171.8" x2="208.6" y2="171.8" stroke="#000" stroke-width="1"/>
<line x1="37.5" y1="168" x2="41.5" y2="168" stroke="#000" stroke-width="1"/>
<line x1="212.6" y1="168" x2="208.6" y2="168" stroke="#000" stroke-width="1"/>
<line x1="37.5" y1="165.05" x2="41.5" y2="165.05" stroke="#000" stroke-width="1"/>
<line x1="212.6" y1="165.05" x2="208.6" y2="165.05" stroke="#000" stroke-width="1"/>
<line x1="37.5" y1="162.64" x2="41.5" y2="162.64" stroke="#000" stroke-width="1"/>
<line x1="212.6" y1="162.64" x2="208.6" y2="162.64" stroke="#000" stroke-width="1"/>
<line x1="37.5" y1="160.61" x2="41.5" y2="160.61" stroke="#000" stroke-width="1"/>
<line x1="212.6" y1="160.61" x2="208.6" y2="160.61" stroke="#000" stroke-width="1"/>
<line x1="37.5" y1="158.85" x2="41.5" y2="158.85" stroke="#000" stroke-width="1"/>
<line x1="212.6" y1="158.85" x2="208.6" y2="158.85" stroke="#000" stroke-width="1"/>
<line x1="37.5" y1="157.29" x2="41.5" y2="157.29" stroke="#000" stroke-width="1"/>
<line x1="212.6" y1="157.29" x2="208.6" y2="157.29" stroke="#000" stroke-width="1"/>
<line x1="37.5" y1="155.9" x2="45" y2="155.9" stroke="#000" stroke-width="1"/>
<line x1="212.6" y1="155.9" x2="205.1" y2="155.9" stroke="#000" stroke-width="1"/>
<rect x="259.5" y="4.5" width="175" height="124" fill="none" stroke="#000" stroke-width="1"/>
<line x1="264.38" y1="128.5" x2="264.38" y2="124.5" stroke="#000" stroke-width="1"/>
<line x1="264.38" y1="4.5" x2="264.38" y2="8.5" stroke="#000" stroke-width="1"/>
<line x1="268.33" y1="128.5" x2="268.33" y2="124.5" stroke="#000" stroke-width="1"/>
<line x1="268.33" y1="4.5" x2="268.33" y2="8.5" stroke="#000" stroke-width="1"/>
<line x1="271.56" y1="128.5" x2="271.56" y2="124.5" stroke="#000" stroke-width="1"/>
<line x1="271.56" y1="4.5" x2="271.56" y2="8.5" stroke="#000" stroke-width="1"/>
<line x1="274.28" y1="128.5" x2="274.28" y2="124.5" stroke="#000" stroke-width="1"/>
<line x1="274.28" y1="4.5" x2="274.28" y2="8.5" stroke="#000" stroke-width="1"/>
<line x1="276.65" y1="128.5" x2="276.65" y2="124.5" stroke="#000" stroke-width="1"/>
<line x1="276.65" y1="4.5" x2="276.65" y2="8.5" stroke="#000" stroke-width="1"/>
<line x1="278.73" y1="128.5" x2="278.73" y2="124.5" stroke="#000" stroke-width="1"/>
<line x1="278.73" y1="4.5" x2="278.73" y2="8.5" stroke="#000" stroke-width="1"/>
<line x1="280.6" y1="128.5" x2="280.6" y2="121" stroke="#000" stroke-width="1"/>
<line x1="280.6" y1="4.5" x2="280.6" y2="12" stroke="#000" stroke-width="1"/>
<line x1="292.87" y1="128.5" x2="292.87" y2="124.5" stroke="#000" stroke-width="1"/>
<line x1="292.87" y1="4.5" x2="292.87" y2="8.5" stroke="#000" stroke-width="1"/>
<line x1="300.05" y1="128.5" x2="300.05" y2="124.5" stroke="#000" stroke-width="1"/>
<line x1="300.05" y1="4.5" x2="300.05" y2="8.5" stroke="#000" stroke-width="1"/>
<line x1="305.15" y1="128.5" x2="305.15" y2="124.5" stroke="#000" stroke-width="1"/>
<line x1="305.15" y1="4.5" x2="305.15" y2="8.5" stroke="#000" stroke-width="1"/>
<line x1="309.1" y1="128.5" x2="309.1" y2="124.5" stroke="#000" stroke-width="1"/>
<line x1="309.1" y1="4.5" x2="309.1" y2="8.5" stroke="#000" stroke-width="1"/>
<line x1="312.33" y1="128.5" x2="312.33" y2="124.5" stroke="#000" stroke-width="1"/>
<line x1="312.33" y1="4.5" x2="312.33" y2="8.5" stroke="#000" stroke-width="1"/>
<line x1="315.05" y1="128.5" x2="315.05" y2="124.5" stroke="#000" stroke-width="1"/>
<line x1="315.05" y1="4.5" x2="315.05" y2="8.5" stroke="#000" stroke-width="1"/>
<line x1="317.42" y1="128.5" x2="317.42" y2="124.5" stroke="#000" stroke-width="1"/>
<line x1="317.42" y1="4.5" x2="317.42" y2="8.5" stroke="#000" stroke-width="1"/>
<line x1="319.5" y1="128.5" x2="319.5" y2="124.5" stroke="#000" stroke-width="1"/>
<line x1="319.5" y1="4.5" x2="319.5" y2="8.5" stroke="#000" stroke-width="1"/>
<line x1="321.37" y1="128.5" x2="321.37" y2="121" stroke="#000" stroke-width="1"/>
<line x1="321.37" y1="4.5" x2="321.37" y2="12" stroke="#000" stroke-width="1"/>
<line x1="333.64" y1="128.5" x2="333.64" y2="124.5" stroke="#000" stroke-width="1"/>
<line x1="333.64" y1="4.5" x2="333.64" y2="8.5" stroke="#000" stroke-width="1"/>
<line x1="340.82" y1="128.5" x2="340.82" y2="124.5" stroke="#000" stroke-width="1"/>
<line x1="340.82" y1="4.5" x2="340.82" y2="8.5" stroke="#000" stroke-width="1"/>
<line x1="345.92" y1="128.5" x2="345.92" y2="124.5" stroke="#000" stroke-width="1"/>
<line x1="345.92" y1="4.5" x2="345.92" y2="8.5" stroke="#000" stroke-width="1"/>
<line x1="349.87" y1="128.5" x2="349.87" y2="124.5" stroke="#000" stroke-width="1"/>
<line x1="349.87" y1="4.5" x2="349.87" y2="8.5" stroke="#000" stroke-width="1"/>
<line x1="353.1" y1="128.5" x2="353.1" y2="124.5" stroke="#000" stroke-width="1"/>
<line x1="353.1" y1="4.5" x2="353.1" y2="8.5" stroke="#000" stroke-width="1"/>
<line x1="355.82" y1="128.5" x2="355.82" y2="124.5" stroke="#000" stroke-width="1"/>
<line x1="355.82" y1="4.5" x2="355.82" y2="8.5" stroke="#000" stroke-width="1"/>
<line x1="358.19" y1="128.5" x2="358.19" y2="124.5" stroke="#000" stroke-width="1"/>
<line x1="358.19" y1="4.5" x2="358.19" y2="8.5" stroke="#000" stroke-width="1"/>
<line x1="360.27" y1="128.5" x2="360.27" y2="124.5" stroke="#000" stroke-width="1"/>
<line x1="360.27" y1="4.5" x2="360.27" y2="8.5" stroke="#000" stroke-width="1"/>
<line x1="362.14" y1="128.5" x2="362.14" y2="121" stroke="#000" stroke-width="1"/>
<line x1="362.14" y1="4.5" x2="362.14" y2="12" stroke="#000" stroke-width="1"/>
<line x1="374.41" y1="128.5" x2="374.41" y2="124.5" stroke="#000" stroke-width="1"/>
<line x1="374.41" y1="4.5" x2="374.41" y2="8.5" stroke="#000" stroke-width="1"/>
<line x1="381.59" y1="128.5" x2="381.59" y2="124.5" stroke="#000" stroke-width="1"/>
<line x1="381.59" y1="4.5" x2="381.59" y2="8.5" stroke="#000" stroke-width="1"/>
<line x1="386.69" y1="128.5" x2="386.69" y2="124.5" stroke="#000" stroke-width="1"/>
<line x1="386.69" y1="4.5" x2="386.69" y2="8.5" stroke="#000" stroke-width="1"/>
<line x1="390.64" y1="128.5" x2="390.64" y2="124.5" stroke="#000" stroke-width="1"/>
<line x1="390.64" y1="4.5" x2="390.64" y2="8.5" stroke="#000" stroke-width="1"/>
<line x1="393.87" y1="128.5" x2="393.87" y2="124.5" stroke="#000" stroke-width="1"/>
<line x1="393.87" y1="4.5" x2="393.87" y2="8.5" stroke="#000" stroke-width="1"/>
<line x1="396.59" y1="128.5" x2="396.59" y2="124.5" stroke="#000" stroke-width="1"/>
<line x1="396.59" y1="4.5" x2="396.59" y2="8.5" stroke="#000" stroke-width="1"/>
<line x1="398.96" y1="128.5" x2="398.96" y2="124.5" stroke="#000" stroke-width="1"/>
<line x1="398.96" y1="4.5" x2="398.96" y2="8.5" stroke="#000" stroke-width="1"/>
<line x1="401.04" y1="128.5" x2="401.04" y2="124.5" stroke="#000" stroke-width="1"/>
<line x1="401.04" y1="4.5" x2="401.04" y2="8.5" stroke="#000" stroke-width="1"/>
<line x1="402.91" y1="128.5" x2="402.91" y2="121" stroke="#000" stroke-width="1"/>
<line x1="402.91" y1="4.5" x2="402.91" y2="12" stroke="#000" stroke-width="1"/>
<line x1="415.18" y1="128.5" x2="415.18" y2="124.5" stroke="#000" stroke-width="1"/>
<line x1="415.18" y1="4.5" x2="415.18" y2="8.5" stroke="#000" stroke-width="1"/>
<line x1="422.36" y1="128.5" x2="422.36" y2="124.5" stroke="#000" stroke-width="1"/>
<line x1="422.36" y1="4.5" x2="422.36" y2="8.5" stroke="#000" stroke-width="1"/>
<line x1="427.46" y1="128.5" x2="427.46" y2="124.5" stroke="#000" stroke-width="1"/>
<line x1="427.46" y1="4.5" x2="427.46" y2="8.5" stroke="#000" stroke-width="1"/>
<line x1="431.41" y1="128.5" x2="431.41" y2="124.5" stroke="#000" stroke-width="1"/>
<line x1="431.41" y1="4.5" x2="431.41" y2="8.5" stroke="#000" stroke-width="1"/>
<line x1="259.5" y1="122.59" x2="263.5" y2="122.59" stroke="#000" stroke-width="1"/>
<line x1="434.5" y1="122.59" x2="430.5" y2="122.59" stroke="#000" stroke-width="1"/>
<line x1="259.5" y1="119.13" x2="263.5" y2="119.13" stroke="#000" stroke-width="1"/>
<line x1="434.5" y1="119.13" x2="430.5" y2="119.13" stroke="#000" stroke-width="1"/>
<line x1="259.5" y1="116.68" x2="263.5" y2="116.68" stroke="#000" stroke-width="1"/>
<line x1="434.5" y1="116.68" x2="430.5" y2="116.68" stroke="#000" stroke-width="1"/>
<line x1="259.5" y1="114.77" x2="263.5" y2="114.77" stroke="#000" stroke-width="1"/>
<line x1="434.5" y1="114.77" x2="430.5" y2="114.77" stroke="#000" stroke-width="1"/>
<line x1="259.5" y1="113.22" x2="263.5" y2="113.22" stroke="#000" stroke-width="1"/>
<line x1="434.5" y1="113.22" x2="430.5" y2="113.22" stroke="#000" stroke-width="1"/>
<line x1="259.5" y1="111.9" x2="263.5" y2="111.9" stroke="#000" stroke-width="1"/>
<line x1="434.5" y1="111.9" x2="430.5" y2="111.9" stroke="#000" stroke-width="1"/>
<line x1="259.5" y1="110.76" x2="263.5" y2="110.76" stroke="#000" stroke-width="1"/>
<line x1="434.5" y1="110.76" x2="430.5" y2="110.76" stroke="#000" stroke-width="1"/>
<line x1="259.5" y1="109.76" x2="263.5" y2="109.76" stroke="#000" stroke-width="1"/>
<line x1="434.5" y1="109.76" x2="430.5" y2="109.76" stroke="#000" stroke-width="1"/>
<line x1="259.5" y1="108.86" x2="267" y2="108.86" stroke="#000" stroke-width="1"/>
<line x1="434.5" y1="108.86" x2="427" y2="108.86" stroke="#000" stroke-width="1"/>
<line x1="259.5" y1="102.95" x2="263.5" y2="102.95" stroke="#000" stroke-width="1"/>
<line x1="434.5" y1="102.95" x2="430.5" y2="102.95" stroke="#000" stroke-width="1"/>
<line x1="259.5" y1="99.49" x2="263.5" y2="99.49" stroke="#000" stroke-width="1"/>
<line x1="434.5" y1="99.49" x2="430.5" y2="99.49" stroke="#000" stroke-width="1"/>
<line x1="259.5" y1="97.04" x2="263.5" y2="97.04" stroke="#000" stroke-width="1"/>
<line x1="434.5" y1="97.04" x2="430.5" y2="97.04" stroke="#000" stroke-width="1"/>
<line x1="259.5" y1="95.13" x2="263.5" y2="95.13" stroke="#000" stroke-width="1"/>
<line x1="434.5" y1="95.13" x2="430.5" y2="95.13" stroke="#000" stroke-width="1"/>
<line x1="259.5" y1="93.58" x2="263.5" y2="93.58" stroke="#000" stroke-width="1"/>
<line x1="434.5" y1="93.58" x2="430.5" y2="93.58" stroke="#000" stroke-width="1"/>
<line x1="259.5" y1="92.26" x2="263.5" y2="92.26" stroke="#000" stroke-width="1"/>
<line x1="434.5" y1="92.26" x2="430.5" y2="92.26" stroke="#000" stroke-width="1"/>
<line x1="259.5" y1="91.12" x2="263.5" y2="91.12" stroke="#000" stroke-width="1"/>
<line x1="434.5" y1="91.12" x2="430.5" y2="91.12" stroke="#000" stroke-width="1"/>
<line x1="259.5" y1="90.12" x2="263.5" y2="90.12" stroke="#000" stroke-width="1"/>
<line x1="434.5" y1="90.12" x2="430.5" y2="90.12" stroke="#000" stroke-width="1"/>
<line x1="259.5" y1="89.22" x2="267" y2="89.22" stroke="#000" stroke-width="1"/>
<line x1="434.5" y1="89.22" x2="427" y2="89.22" stroke="#000" stroke-width="1"/>
<line x1="259.5" y1="83.31" x2="263.5" y2="83.31" stroke="#000" stroke-width="1"/>
<line x1="434.5" y1="83.31" x2="430.5" y2="83.31" stroke="#000" stroke-width="1"/>
<line x1="259.5" y1="79.85" x2="263.5" y2="79.85" stroke="#000" stroke-width="1"/>
<line x1="434.5" y1="79.85" x2="430.5" y2="79.85" stroke="#000" stroke-width="1"/>
<line x1="259.5" y1="77.4" x2="263.5" y2="77.4" stroke="#000" stroke-width="1"/>
<line x1="434.5" y1="77.4" x2="430.5" y2="77.4" stroke="#000" stroke-width="1"/>
<line x1="259.5" y1="75.49" x2="263.5" y2="75.49" stroke="#000" stroke-width="1"/>
<line x1="434.5" y1="75.49" x2="430.5" y2="75.49" stroke="#000" stroke-width="1"/>
<line x1="259.5" y1="73.94" x2="263.5" y2="73.94" stroke="#000" stroke-width="1"/>
<line x1="434.5" y1="73.94" x2="430.5" y2="73.94" stroke="#000" stroke-width="1"/>
<line x1="259.5" y1="72.62" x2="263.5" y2="72.62" stroke="#000" stroke-width="1"/>
<line x1="434.5" y1="72.62" x2="430.5" y2="72.62" stroke="#000" stroke-width="1"/>
<line x1="259.5" y1="71.48" x2="263.5" y2="71.48" stroke="#000" stroke-width="1"/>
<line x1="434.5" y1="71.48" x2="430.5" y2="71.48" stroke="#000" stroke-width="1"/>
<line x1="259.5" y1="70.48" x2="263.5" y2="70.48" stroke="#000" stroke-width="1"/>
<line x1="434.5" y1="70.48" x2="430.5" y2="70.48" stroke="#000" stroke-width="1"/>
<line x1="259.5" y1="69.58" x2="267" y2="69.58" stroke="#000" stroke-width="1"/>
<line x1="434.5" y1="69.58" x2="427" y2="69.58" stroke="#000" stroke-width="1"/>
<line x1="259.5" y1="63.67" x2="263.5" y2="63.67" stroke="#000" stroke-width="1"/>
<line x1="434.5" y1="63.67" x2="430.5" y2="63.67" stroke="#000" stroke-width="1"/>
<line x1="259.5" y1="60.21" x2="263.5" y2="60.21" stroke="#000" stroke-width="1"/>
<line x1="434.5" y1="60.21" x2="430.5" y2="60.21" stroke="#000" stroke-width="1"/>
<line x1="259.5" y1="57.76" x2="263.5" y2="57.76" stroke="#000" stroke-width="1"/>
<line x1="434.5" y1="57.76" x2="430.5" y2="57.76" stroke="#000" stroke-width="1"/>
<line x1="259.5" y1="55.85" x2="263.5" y2="55.85" stroke="#000" stroke-width="1"/>
<line x1="434.5" y1="55.85" x2="430.5" y2="55.85" stroke="#000" stroke-width="1"/>
<line x1="259.5" y1="54.3" x2="263.5" y2="54.3" stroke="#000" stroke-width="1"/>
<line x1="434.5" y1="54.3" x2="430.5" y2="54.3" stroke="#000" stroke-width="1"/>
<line x1="259.5" y1="52.98" x2="263.5" y2="52.98" stroke="#000" stroke-width="1"/>
<line x1="434.5" y1="52.98" x2="430.5" y2="52.98" stroke="#000" stroke-width="1"/>
<line x1="259.5" y1="51.84" x2="263.5" y2="51.84" stroke="#000" stroke-width="1"/>
<line x1="434.5" y1="51.84" x2="430.5" y2="51.84" stroke="#000" stroke-width="1"/>
<line x1="259.5" y1="50.84" x2="263.5" y2="50.84" stroke="#000" stroke-width="1"/>
<line x1="434.5" y1="50.84" x2="430.5" y2="50.84" stroke="#000" stroke-width="1"/>
<line x1="259.5" y1="49.94" x2="267" y2="49.94" stroke="#000" stroke-width="1"/>
<line x1="434.5" y1="49.94" x2="427" y2="49.94" stroke="#000" stroke-width="1"/>
<line x1="259.5" y1="44.03" x2="263.5" y2="44.03" stroke="#000" stroke-width="1"/>
<line x1="434.5" y1="44.03" x2="430.5" y2="44.03" stroke="#000" stroke-width="1"/>
<line x1="259.5" y1="40.57" x2="263.5" y2="40.57" stroke="#000" stroke-width="1"/>
<line x1="434.5" y1="40.57" x2="430.5" y2="40.57" stroke="#000" stroke-width="1"/>
<line x1="259.5" y1="38.12" x2="263.5" y2="38.12" stroke="#000" stroke-width="1"/>
<line x1="434.5" y1="38.12" x2="430.5" y2="38.12" stroke="#000" stroke-width="1"/>
<line x1="259.5" y1="36.21" x2="263.5" y2="36.21" stroke="#000" stroke-width="1"/>
<line x1="434.5" y1="36.21" x2="430.5" y2="36.21" stroke="#000" stroke-width="1"/>
<line x1="259.5" y1="34.66" x2="263.5" y2="34.66" stroke="#000" stroke-width="1"/>
<line x1="434.5" y1="34.66" x2="430.5" y2="34.66" stroke="#000" stroke-width="1"/>
<line x1="259.5" y1="33.34" x2="263.5" y2="33.34" stroke="#000" stroke-width="1"/>
<line x1="434.5" y1="33.34" x2="430.5" y2="33.34" stroke="#000" stroke-width="1"/>
<line x1="259.5" y1="32.2" x2="263.5" y2="32.2" stroke="#000" stroke-width="1"/>
<line x1="434.5" y1="32.2" x2="430.5" y2="32.2" stroke="#000" stroke-width="1"/>
<line x1="259.5" y1="31.2" x2="263.5" y2="31.2" stroke="#000" stroke-width="1"/>
<line x1="434.5" y1="31.2" x2="430.5" y2="31.2" stroke="#000" stroke-width="1"/>
<line x1="259.5" y1="30.3" x2="267" y2="30.3" stroke="#000" stroke-width="1"/>
<line x1="434.5" y1="30.3" x2="427" y2="30.3" stroke="#000" stroke-width="1"/>
<line x1="259.5" y1="24.39" x2="263.5" y2="24.39" stroke="#000" stroke-width="1"/>
<line x1="434.5" y1="24.39" x2="430.5" y2="24.39" stroke="#000" stroke-width="1"/>
<line x1="259.5" y1="20.93" x2="263.5" y2="20.93" stroke="#000" stroke-width="1"/>
<line x1="434.5" y1="20.93" x2="430.5" y2="20.93" stroke="#000" stroke-width="1"/>
<line x1="259.5" y1="18.48" x2="263.5" y2="18.48" stroke="#000" stroke-width="1"/>
<line x1="434.5" y1="18.48" x2="430.5" y2="18.48" stroke="#000" stroke-width="1"/>
<line x1="259.5" y1="16.57" x2="263.5" y2="16.57" stroke="#000" stroke-width="1"/>
<line x1="434.5" y1="16.57" x2="430.5" y2="16.57" stroke="#000" stroke-width="1"/>
<line x1="259.5" y1="15.02" x2="263.5" y2="15.02" stroke="#000" stroke-width="1"/>
<line x1="434.5" y1="15.02" x2="430.5" y2="15.02" stroke="#000" stroke-width="1"/>
<line x1="259.5" y1="13.7" x2="263.5" y2="13.7" stroke="#000" stroke-width="1"/>
<line x1="434.5" y1="13.7" x2="430.5" y2="13.7" stroke="#000" stroke-width="1"/>
<line x1="259.5" y1="12.56" x2="263.5" y2="12.56" stroke="#000" stroke-width="1"/>
<line x1="434.5" y1="12.56" x2="430.5" y2="12.56" stroke="#000" stroke-width="1"/>
<line x1="259.5" y1="11.56" x2="263.5" y2="11.56" stroke="#000" stroke-width="1"/>
<line x1="434.5" y1="11.56" x2="430.5" y2="11.56" stroke="#000" stroke-width="1"/>
<line x1="259.5" y1="10.66" x2="267" y2="10.66" stroke="#000" stroke-width="1"/>
<line x1="434.5" y1="10.66" x2="427" y2="10.66" stroke="#000" stroke-width="1"/>
<rect x="259.5" y="153.5" width="175" height="124" fill="none" stroke="#000" stroke-width="1"/>
<line x1="264.38" y1="277.5" x2="264.38" y2="273.5" stroke="#000" stroke-width="1"/>
<line x1="264.38" y1="153.5" x2="264.38" y2="157.5" stroke="#000" stroke-width="1"/>
<line x1="268.33" y1="277.5" x2="268.33" y2="273.5" stroke="#000" stroke-width="1"/>
<line x1="268.33" y1="153.5" x2="268.33" y2="157.5" stroke="#000" stroke-width="1"/>
<line x1="271.56" y1="277.5" x2="271.56" y2="273.5" stroke="#000" stroke-width="1"/>
<line x1="271.56" y1="153.5" x2="271.56" y2="157.5" stroke="#000" stroke-width="1"/>
<line x1="274.28" y1="277.5" x2="274.28" y2="273.5" stroke="#000" stroke-width="1"/>
<line x1="274.28" y1="153.5" x2="274.28" y2="157.5" stroke="#000" stroke-width="1"/>
<line x1="276.65" y1="277.5" x2="276.65" y2="273.5" stroke="#000" stroke-width="1"/>
<line x1="276.65" y1="153.5" x2="276.65" y2="157.5" stroke="#000" stroke-width="1"/>
<line x1="278.73" y1="277.5" x2="278.73" y2="273.5" stroke="#000" stroke-width="1"/>
<line x1="278.73" y1="153.5" x2="278.73" y2="157.5" stroke="#000" stroke-width="1"/>
<line x1="280.6" y1="277.5" x2="280.6" y2="270" stroke="#000" stroke-width="1"/>
<line x1="280.6" y1="153.5" x2="280.6" y2="161" stroke="#000" stroke-width="1"/>
<line x1="292.87" y1="277.5" x2="292.87" y2="273.5" stroke="#000" stroke-width="1"/>
<line x1="292.87" y1="153.5" x2="292.87" y2="157.5" stroke="#000" stroke-width="1"/>
<line x1="300.05" y1="277.5" x2="300.05" y2="273.5" stroke="#000" stroke-width="1"/>
<line x1="300.05" y1="153.5" x2="300.05" y2="157.5" stroke="#000" stroke-width="1"/>
<line x1="305.15" y1="277.5" x2="305.15" y2="273.5" stroke="#000" stroke-width="1"/>
<line x1="305.15" y1="153.5" x2="305.15" y2="157.5" stroke="#000" stroke-width="1"/>
<line x1="309.1" y1="277.5" x2="309.1" y2="273.5" stroke="#000" stroke-width="1"/>
<line x1="309.1" y1="153.5" x2="309.1" y2="157.5" stroke="#000" stroke-width="1"/>
<line x1="312.33" y1="277.5" x2="312.33" y2="273.5" stroke="#000" stroke-width="1"/>
<line x1="312.33" y1="153.5" x2="312.33" y2="157.5" stroke="#000" stroke-width="1"/>
<line x1="315.05" y1="277.5" x2="315.05" y2="273.5" stroke="#000" stroke-width="1"/>
<line x1="315.05" y1="153.5" x2="315.05" y2="157.5" stroke="#000" stroke-width="1"/>
<line x1="317.42" y1="277.5" x2="317.42" y2="273.5" stroke="#000" stroke-width="1"/>
<line x1="317.42" y1="153.5" x2="317.42" y2="157.5" stroke="#000" stroke-width="1"/>
<line x1="319.5" y1="277.5" x2="319.5" y2="273.5" stroke="#000" stroke-width="1"/>
<line x1="319.5" y1="153.5" x2="319.5" y2="157.5" stroke="#000" stroke-width="1"/>
<line x1="321.37" y1="277.5" x2="321.37" y2="270" stroke="#000" stroke-width="1"/>
<line x1="321.37" y1="153.5" x2="321.37" y2="161" stroke="#000" stroke-width="1"/>
<line x1="333.64" y1="277.5" x2="333.64" y2="273.5" stroke="#000" stroke-width="1"/>
<line x1="333.64" y1="153.5" x2="333.64" y2="157.5" stroke="#000" stroke-width="1"/>
<line x1="340.82" y1="277.5" x2="340.82" y2="273.5" stroke="#000" stroke-width="1"/>
<line x1="340.82" y1="153.5" x2="340.82" y2="157.5" stroke="#000" stroke-width="1"/>
<line x1="345.92" y1="277.5" x2="345.92" y2="273.5" stroke="#000" stroke-width="1"/>
<line x1="345.92" y1="153.5" x2="345.92" y2="157.5" stroke="#000" stroke-width="1"/>
<line x1="349.87" y1="277.5" x2="349.87" y2="273.5" stroke="#000" stroke-width="1"/>
<line x1="349.87" y1="153.5" x2="349.87" y2="157.5" stroke="#000" stroke-width="1"/>
<line x1="353.1" y1="277.5" x2="353.1" y2="273.5" stroke="#000" stroke-width="1"/>
<line x1="353.1" y1="153.5" x2="353.1" y2="157.5" stroke="#000" stroke-width="1"/>
<line x1="355.82" y1="277.5" x2="355.82" y2="273.5" stroke="#000" stroke-width="1"/>
<line x1="355.82" y1="153.5" x2="355.82" y2="157.5" stroke="#000" stroke-width="1"/>
<line x1="358.19" y1="277.5" x2="358.19" y2="273.5" stroke="#000" stroke-width="1"/>
<line x1="358.19" y1="153.5" x2="358.19" y2="157.5" stroke="#000" stroke-width="1"/>
<line x1="360.27" y1="277.5" x2="360.27" y2="273.5" stroke="#000" stroke-width="1"/>
<line x1="360.27" y1="153.5" x2="360.27" y2="157.5" stroke="#000" stroke-width="1"/>
<line x1="362.14" y1="277.5" x2="362.14" y2="270" stroke="#000" stroke-width="1"/>
<line x1="362.14" y1="153.5" x2="362.14" y2="161" stroke="#000" stroke-width="1"/>
<line x1="374.41" y1="277.5" x2="374.41" y2="273.5" stroke="#000" stroke-width="1"/>
<line x1="374.41" y1="153.5" x2="374.41" y2="157.5" stroke="#000" stroke-width="1"/>
<line x1="381.59" y1="277.5" x2="381.59" y2="273.5" stroke="#000" stroke-width="1"/>
<line x1="381.59" y1="153.5" x2="381.59" y2="157.5" stroke="#000" stroke-width="1"/>
<line x1="386.69" y1="277.5" x2="386.69" y2="273.5" stroke="#000" stroke-width="1"/>
<line x1="386.69" y1="153.5" x2="386.69" y2="157.5" stroke="#000" stroke-width="1"/>
<line x1="390.64" y1="277.5" x2="390.64" y2="273.5" stroke="#000" stroke-width="1"/>
<line x1="390.64" y1="153.5" x2="390.64" y2="157.5" stroke="#000" stroke-width="1"/>
<line x1="393.87" y1="277.5" x2="393.87" y2="273.5" stroke="#000" stroke-width="1"/>
<line x1="393.87" y1="153.5" x2="393.87" y2="157.5" stroke="#000" stroke-width="1"/>
<line x1="396.59" y1="277.5" x2="396.59" y2="273.5" stroke="#000" stroke-width="1"/>
<line x1="396.59" y1="153.5" x2="396.59" y2="157.5" stroke="#000" stroke-width="1"/>
<line x1="398.96" y1="277.5" x2="398.96" y2="273.5" stroke="#000" stroke-width="1"/>
<line x1="398.96" y1="153.5" x2="398.96" y2="157.5" stroke="#000" stroke-width="1"/>
<line x1="401.04" y1="277.5" x2="401.04" y2="273.5" stroke="#000" stroke-width="1"/>
<line x1="401.04" y1="153.5" x2="401.04" y2="157.5" stroke="#000" stroke-width="1"/>
<line x1="402.91" y1="277.5" x2="402.91" y2="270" stroke="#000" stroke-width="1"/>
<line x1="402.91" y1="153.5" x2="402.91" y2="161" stroke="#000" stroke-width="1"/>
<line x1="415.18" y1="277.5" x2="415.18" y2="273.5" stroke="#000" stroke-width="1"/>
<line x1="415.18" y1="153.5" x2="415.18" y2="157.5" stroke="#000" stroke-width="1"/>
<line x1="422.36" y1="277.5" x2="422.36" y2="273.5" stroke="#000" stroke-width="1"/>
<line x1="422.36" y1="153.5" x2="422.36" y2="157.5" stroke="#000" stroke-width="1"/>
<line x1="427.46" y1="277.5" x2="427.46" y2="273.5" stroke="#000" stroke-width="1"/>
<line x1="427.46" y1="153.5" x2="427.46" y2="157.5" stroke="#000" stroke-width="1"/>
<line x1="431.41" y1="277.5" x2="431.41" y2="273.5" stroke="#000" stroke-width="1"/>
<line x1="431.41" y1="153.5" x2="431.41" y2="157.5" stroke="#000" stroke-width="1"/>
<line x1="259.5" y1="271.59" x2="263.5" y2="271.59" stroke="#000" stroke-width="1"/>
<line x1="434.5" y1="271.59" x2="430.5" y2="271.59" stroke="#000" stroke-width="1"/>
<line x1="259.5" y1="268.13" x2="263.5" y2="268.13" stroke="#000" stroke-width="1"/>
<line x1="434.5" y1="268.13" x2="430.5" y2="268.13" stroke="#000" stroke-width="1"/>
<line x1="259.5" y1="265.68" x2="263.5" y2="265.68" stroke="#000" stroke-width="1"/>
<line x1="434.5" y1="265.68" x2="430.5" y2="265.68" stroke="#000" stroke-width="1"/>
<line x1="259.5" y1="263.77" x2="263.5" y2="263.77" stroke="#000" stroke-width="1"/>
<line x1="434.5" y1="263.77" x2="430.5" y2="263.77" stroke="#000" stroke-width="1"/>
<line x1="259.5" y1="262.22" x2="263.5" y2="262.22" stroke="#000" stroke-width="1"/>
<line x1="434.5" y1="262.22" x2="430.5" y2="262.22" stroke="#000" stroke-width="1"/>
<line x1="259.5" y1="260.9" x2="263.5" y2="260.9" stroke="#000" stroke-width="1"/>
<line x1="434.5" y1="260.9" x2="430.5" y2="260.9" stroke="#000" stroke-width="1"/>
<line x1="259.5" y1="259.76" x2="263.5" y2="259.76" stroke="#000" stroke-width="1"/>
<line x1="434.5" y1="259.76" x2="430.5" y2="259.76" stroke="#000" stroke-width="1"/>
<line x1="259.5" y1="258.76" x2="263.5" y2="258.76" stroke="#000" stroke-width="1"/>
<line x1="434.5" y1="258.76" x2="430.5" y2="258.76" stroke="#000" stroke-width="1"/>
<line x1="259.5" y1="257.86" x2="267" y2="257.86" stroke="#000" stroke-width="1"/>
<line x1="434.5" y1="257.86" x2="427" y2="257.86" stroke="#000" stroke-width="1"/>
<line x1="259.5" y1="251.95" x2="263.5" y2="251.95" stroke="#000" stroke-width="1"/>
<line x1="434.5" y1="251.95" x2="430.5" y2="251.95" stroke="#000" stroke-width="1"/>
<line x1="259.5" y1="248.49" x2="263.5" y2="248.49" stroke="#000" stroke-width="1"/>
<line x1="434.5" y1="248.49" x2="430.5" y2="248.49" stroke="#000" stroke-width="1"/>
<line x1="259.5" y1="246.04" x2="263.5" y2="246.04" stroke="#000" stroke-width="1"/>
<line x1="434.5" y1="246.04" x2="430.5" y2="246.04" stroke="#000" stroke-width="1"/>
<line x1="259.5" y1="244.13" x2="263.5" y2="244.13" stroke="#000" stroke-width="1"/>
<line x1="434.5" y1="244.13" x2="430.5" y2="244.13" stroke="#000" stroke-width="1"/>
<line x1="259.5" y1="242.58" x2="263.5" y2="242.58" stroke="#000" stroke-width="1"/>
<line x1="434.5" y1="242.58" x2="430.5" y2="242.58" stroke="#000" stroke-width="1"/>
<line x1="259.5" y1="241.26" x2="263.5" y2="241.26" stroke="#000" stroke-width="1"/>
<line x1="434.5" y1="241.26" x2="430.5" y2="241.26" stroke="#000" stroke-width="1"/>
<line x1="259.5" y1="240.12" x2="263.5" y2="240.12" stroke="#000" stroke-width="1"/>
<line x1="434.5" y1="240.12" x2="430.5" y2="240.12" stroke="#000" stroke-width="1"/>
<line x1="259.5" y1="239.12" x2="263.5" y2="239.12" stroke="#000" stroke-width="1"/>
<line x1="434.5" y1="239.12" x2="430.5" y2="239.12" stroke="#000" stroke-width="1"/>
<line x1="259.5" y1="238.22" x2="267" y2="238.22" stroke="#000" stroke-width="1"/>
<line x1="434.5" y1="238.22" x2="427" y2="238.22" stroke="#000" stroke-width="1"/>
<line x1="259.5" y1="232.31" x2="263.5" y2="232.31" stroke="#000" stroke-width="1"/>
<line x1="434.5" y1="232.31" x2="430.5" y2="232.31" stroke="#000" stroke-width="1"/>
<line x1="259.5" y1="228.85" x2="263.5" y2="228.85" stroke="#000" stroke-width="1"/>
<line x1="434.5" y1="228.85" x2="430.5" y2="228.85" stroke="#000" stroke-width="1"/>
<line x1="259.5" y1="226.4" x2="263.5" y2="226.4" stroke="#000" stroke-width="1"/>
<line x1="434.5" y1="226.4" x2="430.5" y2="226.4" stroke="#000" stroke-width="1"/>
<line x1="259.5" y1="224.49" x2="263.5" y2="224.49" stroke="#000" stroke-width="1"/>
<line x1="434.5" y1="224.49" x2="430.5" y2="224.49" stroke="#000" stroke-width="1"/>
<line x1="259.5" y1="222.94" x2="263.5" y2="222.94" stroke="#000" stroke-width="1"/>
<line x1="434.5" y1="222.94" x2="430.5" y2="222.94" stroke="#000" stroke-width="1"/>
<line x1="259.5" y1="221.62" x2="263.5" y2="221.62" stroke="#000" stroke-width="1"/>
<line x1="434.5" y1="221.62" x2="430.5" y2="221.62" stroke="#000" stroke-width="1"/>
<line x1="259.5" y1="220.48" x2="263.5" y2="220.48" stroke="#000" stroke-width="1"/>
<line x1="434.5" y1="220.48" x2="430.5" y2="220.48" stroke="#000" stroke-width="1"/>
<line x1="259.5" y1="219.48" x2="263.5" y2="219.48" stroke="#000" stroke-width="1"/>
<line x1="434.5" y1="219.48" x2="430.5" y2="219.48" stroke="#000" stroke-width="1"/>
<line x1="259.5" y1="218.58" x2="267" y2="218.58" stroke="#000" stroke-width="1"/>
<line x1="434.5" y1="218.58" x2="427" y2="218.58" stroke="#000" stroke-width="1"/>
<line x1="259.5" y1="212.67" x2="263.5" y2="212.67" stroke="#000" stroke-width="1"/>
<line x1="434.5" y1="212.67" x2="430.5" y2="212.67" stroke="#000" stroke-width="1"/>
<line x1="259.5" y1="209.21" x2="263.5" y2="209.21" stroke="#000" stroke-width="1"/>
<line x1="434.5" y1="209.21" x2="430.5" y2="209.21" stroke="#000" stroke-width="1"/>
<line x1="259.5" y1="206.76" x2="263.5" y2="206.76" stroke="#000" stroke-width="1"/>
<line x1="434.5" y1="206.76" x2="430.5" y2="206.76" stroke="#000" stroke-width="1"/>
<line x1="259.5" y1="204.85" x2="263.5" y2="204.85" stroke="#000" stroke-width="1"/>
<line x1="434.5" y1="204.85" x2="430.5" y2="204.85" stroke="#000" stroke-width="1"/>
<line x1="259.5" y1="203.3" x2="263.5" y2="203.3" stroke="#000" stroke-width="1"/>
<line x1="434.5" y1="203.3" x2="430.5" y2="203.3" stroke="#000" stroke-width="1"/>
<line x1="259.5" y1="201.98" x2="263.5" y2="201.98" stroke="#000" stroke-width="1"/>
<line x1="434.5" y1="201.98" x2="430.5" y2="201.98" stroke="#000" stroke-width="1"/>
<line x1="259.5" y1="200.84" x2="263.5" y2="200.84" stroke="#000" stroke-width="1"/>
<line x1="434.5" y1="200.84" x2="430.5" y2="200.84" stroke="#000" stroke-width="1"/>
<line x1="259.5" y1="199.84" x2="263.5" y2="199.84" stroke="#000" stroke-width="1"/>
<line x1="434.5" y1="199.84" x2="430.5" y2="199.84" stroke="#000" stroke-width="1"/>
<line x1="259.5" y1="198.94" x2="267" y2="198.94" stroke="#000" stroke-width="1"/>
<line x1="434.5" y1="198.94" x2="427" y2="198.94" stroke="#000" stroke-width="1"/>
<line x1="259.5" y1="193.03" x2="263.5" y2="193.03" stroke="#000" stroke-width="1"/>
<line x1="434.5" y1="193.03" x2="430.5" y2="193.03" stroke="#000" stroke-width="1"/>
<line x1="259.5" y1="189.57" x2="263.5" y2="189.57" stroke="#000" stroke-width="1"/>
<line x1="434.5" y1="189.57" x2="430.5" y2="189.57" stroke="#000" stroke-width="1"/>
<line x1="259.5" y1="187.12" x2="263.5" y2="187.12" stroke="#000" stroke-width="1"/>
<line x1="434.5" y1="187.12" x2="430.5" y2="187.12" stroke="#000" stroke-width="1"/>
<line x1="259.5" y1="185.21" x2="263.5" y2="185.21" stroke="#000" stroke-width="1"/>
<line x1="434.5" y1="185.21" x2="430.5" y2="185.21" stroke="#000" stroke-width="1"/>
<line x1="259.5" y1="183.66" x2="263.5" y2="183.66" stroke="#000" stroke-width="1"/>
<line x1="434.5" y1="183.66" x2="430.5" y2="183.66" stroke="#000" stroke-width="1"/>
<line x1="259.5" y1="182.34" x2="263.5" y2="182.34" stroke="#000" stroke-width="1"/>
<line x1="434.5" y1="182.34" x2="430.5" y2="182.34" stroke="#000" stroke-width="1"/>
<line x1="259.5" y1="181.2" x2="263.5" y2="181.2" stroke="#000" stroke-width="1"/>
<line x1="434.5" y1="181.2" x2="430.5" y2="181.2" stroke="#000" stroke-width="1"/>
<line x1="259.5" y1="180.2" x2="263.5" y2="180.2" stroke="#000" stroke-width="1"/>
<line x1="434.5" y1="180.2" x2="430.5" y2="180.2" stroke="#000" stroke-width="1"/>
<line x1="259.5" y1="179.3" x2="267" y2="179.3" stroke="#000" stroke-width="1"/>
<line x1="434.5" y1="179.3" x2="427" y2="179.3" stroke="#000" stroke-width="1"/>
<line x1="259.5" y1="173.39" x2="263.5" y2="173.39" stroke="#000" stroke-width="1"/>
<line x1="434.5" y1="173.39" x2="430.5" y2="173.39" stroke="#000" stroke-width="1"/>
<line x1="259.5" y1="169.93" x2="263.5" y2="169.93" stroke="#000" stroke-width="1"/>
<line x1="434.5" y1="169.93" x2="430.5" y2="169.93" stroke="#000" stroke-width="1"/>
<line x1="259.5" y1="167.48" x2="263.5" y2="167.48" stroke="#000" stroke-width="1"/>
<line x1="434.5" y1="167.48" x2="430.5" y2="167.48" stroke="#000" stroke-width="1"/>
<line x1="259.5" y1="165.57" x2="263.5" y2="165.57" stroke="#000" stroke-width="1"/>
<line x1="434.5" y1="165.57" x2="430.5" y2="165.57" stroke="#000" stroke-width="1"/>
<line x1="259.5" y1="164.02" x2="263.5" y2="164.02" stroke="#000" stroke-width="1"/>
<line x1="434.5" y1="164.02" x2="430.5" y2="164.02" stroke="#000" stroke-width="1"/>
<line x1="259.5" y1="162.7" x2="263.5" y2="162.7" stroke="#000" stroke-width="1"/>
<line x1="434.5" y1="162.7" x2="430.5" y2="162.7" stroke="#000" stroke-width="1"/>
<line x1="259.5" y1="161.56" x2="263.5" y2="161.56" stroke="#000" stroke-width="1"/>
<line x1="434.5" y1="161.56" x2="430.5" y2="161.56" stroke="#000" stroke-width="1"/>
<line x1="259.5" y1="160.56" x2="263.5" y2="160.56" stroke="#000" stroke-width="1"/>
<line x1="434.5" y1="160.56" x2="430.5" y2="160.56" stroke="#000" stroke-width="1"/>
<line x1="259.5" y1="159.66" x2="267" y2="159.66" stroke="#000" stroke-width="1"/>
<line x1="434.5" y1="159.66" x2="427" y2="159.66" stroke="#000" stroke-width="1"/>
<text x="34" y="12.9" font-size="11" text-anchor="end">10<tspan font-size="8" dy="-5.9">-1</tspan></text>
<text x="34" y="43.3" font-size="11" text-anchor="end">10<tspan font-size="8" dy="-5.9">-2</tspan></text>
<text x="34" y="73.7" font-size="11" text-anchor="end">10<tspan font-size="8" dy="-5.9">-3</tspan></text>
<text x="34" y="104.1" font-size="11" text-anchor="end">10<tspan font-size="8" dy="-5.9">-4</tspan></text>
<text x="34" y="134.5" font-size="11" text-anchor="end">10<tspan font-size="8" dy="-5.9">-5</tspan></text>
<text x="107" y="141" font-size="11" text-anchor="middle" >10</text>
<text x="205.4" y="141" font-size="11" text-anchor="middle" >100</text>
<text x="34" y="161.9" font-size="11" text-anchor="end">10<tspan font-size="8" dy="-5.9">-1</tspan></text>
<text x="34" y="192.3" font-size="11" text-anchor="end">10<tspan font-size="8" dy="-5.9">-2</tspan></text>
<text x="34" y="222.7" font-size="11" text-anchor="end">10<tspan font-size="8" dy="-5.9">-3</tspan></text>
<text x="34" y="253.1" font-size="11" text-anchor="end">10<tspan font-size="8" dy="-5.9">-4</tspan></text>
<text x="34" y="283.5" font-size="11" text-anchor="end">10<tspan font-size="8" dy="-5.9">-5</tspan></text>
<text x="107" y="290" font-size="11" text-anchor="middle" >10</text>
<text x="205.4" y="290" font-size="11" text-anchor="middle" >100</text>
<text x="256" y="16.66" font-size="11" text-anchor="end">10<tspan font-size="8" dy="-5.9">1</tspan></text>
<text x="256" y="36.3" font-size="11" text-anchor="end">10<tspan font-size="8" dy="-5.9">0</tspan></text>
<text x="256" y="55.94" font-size="11" text-anchor="end">10<tspan font-size="8" dy="-5.9">-1</tspan></text>
<text x="256" y="75.58" font-size="11" text-anchor="end">10<tspan font-size="8" dy="-5.9">-2</tspan></text>
<text x="256" y="95.22" font-size="11" text-anchor="end">10<tspan font-size="8" dy="-5.9">-3</tspan></text>
<text x="256" y="114.86" font-size="11" text-anchor="end">10<tspan font-size="8" dy="-5.9">-4</tspan></text>
<text x="256" y="134.5" font-size="11" text-anchor="end">10<tspan font-size="8" dy="-5.9">-5</tspan></text>
<text x="281.1" y="141" font-size="11" text-anchor="middle" >0.01</text>
<text x="321.87" y="141" font-size="11" text-anchor="middle" >0.1</text>
<text x="362.64" y="141" font-size="11" text-anchor="middle" >1</text>
<text x="403.41" y="141" font-size="11" text-anchor="middle" >10</text>
<text x="256" y="165.66" font-size="11" text-anchor="end">10<tspan font-size="8" dy="-5.9">1</tspan></text>
<text x="256" y="185.3" font-size="11" text-anchor="end">10<tspan font-size="8" dy="-5.9">0</tspan></text>
<text x="256" y="204.94" font-size="11" text-anchor="end">10<tspan font-size="8" dy="-5.9">-1</tspan></text>
<text x="256" y="224.58" font-size="11" text-anchor="end">10<tspan font-size="8" dy="-5.9">-2</tspan></text>
<text x="256" y="244.22" font-size="11" text-anchor="end">10<tspan font-size="8" dy="-5.9">-3</tspan></text>
<text x="256" y="263.86" font-size="11" text-anchor="end">10<tspan font-size="8" dy="-5.9">-4</tspan></text>
<text x="256" y="283.5" font-size="11" text-anchor="end">10<tspan font-size="8" dy="-5.9">-5</tspan></text>
<text x="281.1" y="290" font-size="11" text-anchor="middle" >0.01</text>
<text x="321.87" y="290" font-size="11" text-anchor="middle" >0.1</text>
<text x="362.64" y="290" font-size="11" text-anchor="middle" >1</text>
<text x="403.41" y="290" font-size="11" text-anchor="middle" >10</text>
<text transform="translate(12.2,66.5) rotate(-90)" font-size="11.18" text-anchor="middle">Photons cm<tspan font-size="8" dy="-5.9">-2</tspan><tspan dy="5.9" font-size="11">&#8203;</tspan> s<tspan font-size="8" dy="-5.9">-1</tspan><tspan dy="5.9" font-size="11">&#8203;</tspan> keV<tspan font-size="8" dy="-5.9">-1</tspan><tspan dy="5.9" font-size="11">&#8203;</tspan></text>
<text transform="translate(233.7,66.3) rotate(-90)" font-size="10.95" text-anchor="middle">(rms/mean)<tspan font-size="8" dy="-5.9">2</tspan><tspan dy="5.9" font-size="11">&#8203;</tspan> Hz<tspan font-size="8" dy="-5.9">-1</tspan><tspan dy="5.9" font-size="11">&#8203;</tspan></text>
<text transform="translate(12.2,215.5) rotate(-90)" font-size="11.18" text-anchor="middle">Photons cm<tspan font-size="8" dy="-5.9">-2</tspan><tspan dy="5.9" font-size="11">&#8203;</tspan> s<tspan font-size="8" dy="-5.9">-1</tspan><tspan dy="5.9" font-size="11">&#8203;</tspan> keV<tspan font-size="8" dy="-5.9">-1</tspan><tspan dy="5.9" font-size="11">&#8203;</tspan></text>
<text transform="translate(233.7,215.3) rotate(-90)" font-size="10.95" text-anchor="middle">(rms/mean)<tspan font-size="8" dy="-5.9">2</tspan><tspan dy="5.9" font-size="11">&#8203;</tspan> Hz<tspan font-size="8" dy="-5.9">-1</tspan><tspan dy="5.9" font-size="11">&#8203;</tspan></text>
<text x="125.4" y="300.8" font-size="11" text-anchor="middle" >Energy (keV)</text>
<text x="347.3" y="300.8" font-size="11" text-anchor="middle" >Frequency (Hz)</text>
</svg></body></html>
